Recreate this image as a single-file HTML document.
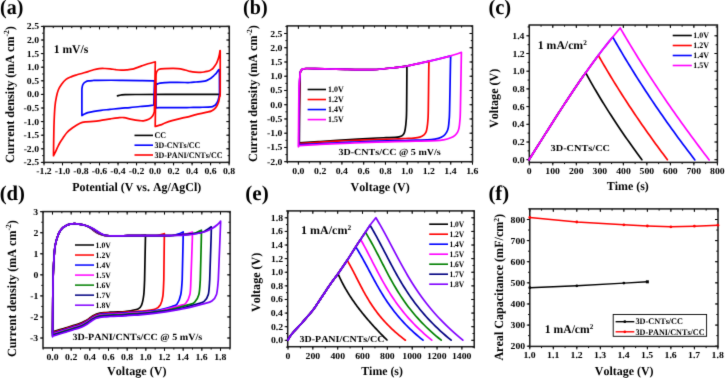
<!DOCTYPE html>
<html><head><meta charset="utf-8"><title>Figure</title><style>
html,body{margin:0;padding:0;background:#fff;width:725px;height:378px;overflow:hidden;}
svg{display:block;font-family:"Liberation Serif",serif;font-weight:bold;font-kerning:none;text-rendering:geometricPrecision;will-change:transform;}
</style></head><body>
<svg width="725" height="378" viewBox="0 0 725 378">
<defs><filter id="soft" x="0" y="0" width="1" height="1" color-interpolation-filters="sRGB"><feConvolveMatrix order="3" kernelMatrix="0.012 0.08 0.012 0.08 0.632 0.08 0.012 0.08 0.012" edgeMode="duplicate"/></filter></defs>
<rect width="725" height="378" fill="#fff"/>
<g filter="url(#soft)">
<text transform="translate(0.02 14.20) scale(0.9496 1.0000)" font-size="21.00" fill="#000"><tspan>(a)</tspan></text>
<text transform="translate(243.02 14.20) scale(0.9572 1.0000)" font-size="21.00" fill="#000"><tspan>(b)</tspan></text>
<text transform="translate(488.40 14.20) scale(0.9785 1.0000)" font-size="21.00" fill="#000"><tspan>(c)</tspan></text>
<text transform="translate(-0.31 199.70) scale(0.9866 1.0000)" font-size="21.00" fill="#000"><tspan>(d)</tspan></text>
<text transform="translate(245.27 200.00) scale(1.0065 1.0000)" font-size="21.00" fill="#000"><tspan>(e)</tspan></text>
<text transform="translate(488.39 199.80) scale(0.9878 1.0000)" font-size="21.00" fill="#000"><tspan>(f)</tspan></text>
<line x1="44.00" y1="162.40" x2="44.00" y2="164.10" stroke="#000" stroke-width="1.00" stroke-linecap="butt"/>
<line x1="44.00" y1="26.40" x2="44.00" y2="28.10" stroke="#000" stroke-width="1.00" stroke-linecap="butt"/>
<line x1="53.26" y1="162.40" x2="53.26" y2="164.10" stroke="#000" stroke-width="1.00" stroke-linecap="butt"/>
<line x1="53.26" y1="26.40" x2="53.26" y2="28.10" stroke="#000" stroke-width="1.00" stroke-linecap="butt"/>
<line x1="62.51" y1="162.40" x2="62.51" y2="164.10" stroke="#000" stroke-width="1.00" stroke-linecap="butt"/>
<line x1="62.51" y1="26.40" x2="62.51" y2="28.10" stroke="#000" stroke-width="1.00" stroke-linecap="butt"/>
<line x1="71.77" y1="162.40" x2="71.77" y2="164.10" stroke="#000" stroke-width="1.00" stroke-linecap="butt"/>
<line x1="71.77" y1="26.40" x2="71.77" y2="28.10" stroke="#000" stroke-width="1.00" stroke-linecap="butt"/>
<line x1="81.02" y1="162.40" x2="81.02" y2="164.10" stroke="#000" stroke-width="1.00" stroke-linecap="butt"/>
<line x1="81.02" y1="26.40" x2="81.02" y2="28.10" stroke="#000" stroke-width="1.00" stroke-linecap="butt"/>
<line x1="90.28" y1="162.40" x2="90.28" y2="164.10" stroke="#000" stroke-width="1.00" stroke-linecap="butt"/>
<line x1="90.28" y1="26.40" x2="90.28" y2="28.10" stroke="#000" stroke-width="1.00" stroke-linecap="butt"/>
<line x1="99.53" y1="162.40" x2="99.53" y2="164.10" stroke="#000" stroke-width="1.00" stroke-linecap="butt"/>
<line x1="99.53" y1="26.40" x2="99.53" y2="28.10" stroke="#000" stroke-width="1.00" stroke-linecap="butt"/>
<line x1="108.79" y1="162.40" x2="108.79" y2="164.10" stroke="#000" stroke-width="1.00" stroke-linecap="butt"/>
<line x1="108.79" y1="26.40" x2="108.79" y2="28.10" stroke="#000" stroke-width="1.00" stroke-linecap="butt"/>
<line x1="118.04" y1="162.40" x2="118.04" y2="164.10" stroke="#000" stroke-width="1.00" stroke-linecap="butt"/>
<line x1="118.04" y1="26.40" x2="118.04" y2="28.10" stroke="#000" stroke-width="1.00" stroke-linecap="butt"/>
<line x1="127.30" y1="162.40" x2="127.30" y2="164.10" stroke="#000" stroke-width="1.00" stroke-linecap="butt"/>
<line x1="127.30" y1="26.40" x2="127.30" y2="28.10" stroke="#000" stroke-width="1.00" stroke-linecap="butt"/>
<line x1="136.55" y1="162.40" x2="136.55" y2="164.10" stroke="#000" stroke-width="1.00" stroke-linecap="butt"/>
<line x1="136.55" y1="26.40" x2="136.55" y2="28.10" stroke="#000" stroke-width="1.00" stroke-linecap="butt"/>
<line x1="145.81" y1="162.40" x2="145.81" y2="164.10" stroke="#000" stroke-width="1.00" stroke-linecap="butt"/>
<line x1="145.81" y1="26.40" x2="145.81" y2="28.10" stroke="#000" stroke-width="1.00" stroke-linecap="butt"/>
<line x1="155.06" y1="162.40" x2="155.06" y2="164.10" stroke="#000" stroke-width="1.00" stroke-linecap="butt"/>
<line x1="155.06" y1="26.40" x2="155.06" y2="28.10" stroke="#000" stroke-width="1.00" stroke-linecap="butt"/>
<line x1="164.31" y1="162.40" x2="164.31" y2="164.10" stroke="#000" stroke-width="1.00" stroke-linecap="butt"/>
<line x1="164.31" y1="26.40" x2="164.31" y2="28.10" stroke="#000" stroke-width="1.00" stroke-linecap="butt"/>
<line x1="173.57" y1="162.40" x2="173.57" y2="164.10" stroke="#000" stroke-width="1.00" stroke-linecap="butt"/>
<line x1="173.57" y1="26.40" x2="173.57" y2="28.10" stroke="#000" stroke-width="1.00" stroke-linecap="butt"/>
<line x1="182.82" y1="162.40" x2="182.82" y2="164.10" stroke="#000" stroke-width="1.00" stroke-linecap="butt"/>
<line x1="182.82" y1="26.40" x2="182.82" y2="28.10" stroke="#000" stroke-width="1.00" stroke-linecap="butt"/>
<line x1="192.08" y1="162.40" x2="192.08" y2="164.10" stroke="#000" stroke-width="1.00" stroke-linecap="butt"/>
<line x1="192.08" y1="26.40" x2="192.08" y2="28.10" stroke="#000" stroke-width="1.00" stroke-linecap="butt"/>
<line x1="201.34" y1="162.40" x2="201.34" y2="164.10" stroke="#000" stroke-width="1.00" stroke-linecap="butt"/>
<line x1="201.34" y1="26.40" x2="201.34" y2="28.10" stroke="#000" stroke-width="1.00" stroke-linecap="butt"/>
<line x1="210.59" y1="162.40" x2="210.59" y2="164.10" stroke="#000" stroke-width="1.00" stroke-linecap="butt"/>
<line x1="210.59" y1="26.40" x2="210.59" y2="28.10" stroke="#000" stroke-width="1.00" stroke-linecap="butt"/>
<line x1="219.84" y1="162.40" x2="219.84" y2="164.10" stroke="#000" stroke-width="1.00" stroke-linecap="butt"/>
<line x1="219.84" y1="26.40" x2="219.84" y2="28.10" stroke="#000" stroke-width="1.00" stroke-linecap="butt"/>
<line x1="229.10" y1="162.40" x2="229.10" y2="164.10" stroke="#000" stroke-width="1.00" stroke-linecap="butt"/>
<line x1="229.10" y1="26.40" x2="229.10" y2="28.10" stroke="#000" stroke-width="1.00" stroke-linecap="butt"/>
<line x1="44.00" y1="162.40" x2="44.00" y2="165.40" stroke="#000" stroke-width="1.00" stroke-linecap="butt"/>
<line x1="44.00" y1="26.40" x2="44.00" y2="29.40" stroke="#000" stroke-width="1.00" stroke-linecap="butt"/>
<line x1="62.51" y1="162.40" x2="62.51" y2="165.40" stroke="#000" stroke-width="1.00" stroke-linecap="butt"/>
<line x1="62.51" y1="26.40" x2="62.51" y2="29.40" stroke="#000" stroke-width="1.00" stroke-linecap="butt"/>
<line x1="81.02" y1="162.40" x2="81.02" y2="165.40" stroke="#000" stroke-width="1.00" stroke-linecap="butt"/>
<line x1="81.02" y1="26.40" x2="81.02" y2="29.40" stroke="#000" stroke-width="1.00" stroke-linecap="butt"/>
<line x1="99.53" y1="162.40" x2="99.53" y2="165.40" stroke="#000" stroke-width="1.00" stroke-linecap="butt"/>
<line x1="99.53" y1="26.40" x2="99.53" y2="29.40" stroke="#000" stroke-width="1.00" stroke-linecap="butt"/>
<line x1="118.04" y1="162.40" x2="118.04" y2="165.40" stroke="#000" stroke-width="1.00" stroke-linecap="butt"/>
<line x1="118.04" y1="26.40" x2="118.04" y2="29.40" stroke="#000" stroke-width="1.00" stroke-linecap="butt"/>
<line x1="136.55" y1="162.40" x2="136.55" y2="165.40" stroke="#000" stroke-width="1.00" stroke-linecap="butt"/>
<line x1="136.55" y1="26.40" x2="136.55" y2="29.40" stroke="#000" stroke-width="1.00" stroke-linecap="butt"/>
<line x1="155.06" y1="162.40" x2="155.06" y2="165.40" stroke="#000" stroke-width="1.00" stroke-linecap="butt"/>
<line x1="155.06" y1="26.40" x2="155.06" y2="29.40" stroke="#000" stroke-width="1.00" stroke-linecap="butt"/>
<line x1="173.57" y1="162.40" x2="173.57" y2="165.40" stroke="#000" stroke-width="1.00" stroke-linecap="butt"/>
<line x1="173.57" y1="26.40" x2="173.57" y2="29.40" stroke="#000" stroke-width="1.00" stroke-linecap="butt"/>
<line x1="192.08" y1="162.40" x2="192.08" y2="165.40" stroke="#000" stroke-width="1.00" stroke-linecap="butt"/>
<line x1="192.08" y1="26.40" x2="192.08" y2="29.40" stroke="#000" stroke-width="1.00" stroke-linecap="butt"/>
<line x1="210.59" y1="162.40" x2="210.59" y2="165.40" stroke="#000" stroke-width="1.00" stroke-linecap="butt"/>
<line x1="210.59" y1="26.40" x2="210.59" y2="29.40" stroke="#000" stroke-width="1.00" stroke-linecap="butt"/>
<line x1="229.10" y1="162.40" x2="229.10" y2="165.40" stroke="#000" stroke-width="1.00" stroke-linecap="butt"/>
<line x1="229.10" y1="26.40" x2="229.10" y2="29.40" stroke="#000" stroke-width="1.00" stroke-linecap="butt"/>
<line x1="42.20" y1="162.40" x2="43.90" y2="162.40" stroke="#000" stroke-width="1.00" stroke-linecap="butt"/>
<line x1="227.60" y1="162.40" x2="229.30" y2="162.40" stroke="#000" stroke-width="1.00" stroke-linecap="butt"/>
<line x1="42.20" y1="155.60" x2="43.90" y2="155.60" stroke="#000" stroke-width="1.00" stroke-linecap="butt"/>
<line x1="227.60" y1="155.60" x2="229.30" y2="155.60" stroke="#000" stroke-width="1.00" stroke-linecap="butt"/>
<line x1="42.20" y1="148.80" x2="43.90" y2="148.80" stroke="#000" stroke-width="1.00" stroke-linecap="butt"/>
<line x1="227.60" y1="148.80" x2="229.30" y2="148.80" stroke="#000" stroke-width="1.00" stroke-linecap="butt"/>
<line x1="42.20" y1="142.00" x2="43.90" y2="142.00" stroke="#000" stroke-width="1.00" stroke-linecap="butt"/>
<line x1="227.60" y1="142.00" x2="229.30" y2="142.00" stroke="#000" stroke-width="1.00" stroke-linecap="butt"/>
<line x1="42.20" y1="135.20" x2="43.90" y2="135.20" stroke="#000" stroke-width="1.00" stroke-linecap="butt"/>
<line x1="227.60" y1="135.20" x2="229.30" y2="135.20" stroke="#000" stroke-width="1.00" stroke-linecap="butt"/>
<line x1="42.20" y1="128.40" x2="43.90" y2="128.40" stroke="#000" stroke-width="1.00" stroke-linecap="butt"/>
<line x1="227.60" y1="128.40" x2="229.30" y2="128.40" stroke="#000" stroke-width="1.00" stroke-linecap="butt"/>
<line x1="42.20" y1="121.60" x2="43.90" y2="121.60" stroke="#000" stroke-width="1.00" stroke-linecap="butt"/>
<line x1="227.60" y1="121.60" x2="229.30" y2="121.60" stroke="#000" stroke-width="1.00" stroke-linecap="butt"/>
<line x1="42.20" y1="114.80" x2="43.90" y2="114.80" stroke="#000" stroke-width="1.00" stroke-linecap="butt"/>
<line x1="227.60" y1="114.80" x2="229.30" y2="114.80" stroke="#000" stroke-width="1.00" stroke-linecap="butt"/>
<line x1="42.20" y1="108.00" x2="43.90" y2="108.00" stroke="#000" stroke-width="1.00" stroke-linecap="butt"/>
<line x1="227.60" y1="108.00" x2="229.30" y2="108.00" stroke="#000" stroke-width="1.00" stroke-linecap="butt"/>
<line x1="42.20" y1="101.20" x2="43.90" y2="101.20" stroke="#000" stroke-width="1.00" stroke-linecap="butt"/>
<line x1="227.60" y1="101.20" x2="229.30" y2="101.20" stroke="#000" stroke-width="1.00" stroke-linecap="butt"/>
<line x1="42.20" y1="94.40" x2="43.90" y2="94.40" stroke="#000" stroke-width="1.00" stroke-linecap="butt"/>
<line x1="227.60" y1="94.40" x2="229.30" y2="94.40" stroke="#000" stroke-width="1.00" stroke-linecap="butt"/>
<line x1="42.20" y1="87.60" x2="43.90" y2="87.60" stroke="#000" stroke-width="1.00" stroke-linecap="butt"/>
<line x1="227.60" y1="87.60" x2="229.30" y2="87.60" stroke="#000" stroke-width="1.00" stroke-linecap="butt"/>
<line x1="42.20" y1="80.80" x2="43.90" y2="80.80" stroke="#000" stroke-width="1.00" stroke-linecap="butt"/>
<line x1="227.60" y1="80.80" x2="229.30" y2="80.80" stroke="#000" stroke-width="1.00" stroke-linecap="butt"/>
<line x1="42.20" y1="74.00" x2="43.90" y2="74.00" stroke="#000" stroke-width="1.00" stroke-linecap="butt"/>
<line x1="227.60" y1="74.00" x2="229.30" y2="74.00" stroke="#000" stroke-width="1.00" stroke-linecap="butt"/>
<line x1="42.20" y1="67.20" x2="43.90" y2="67.20" stroke="#000" stroke-width="1.00" stroke-linecap="butt"/>
<line x1="227.60" y1="67.20" x2="229.30" y2="67.20" stroke="#000" stroke-width="1.00" stroke-linecap="butt"/>
<line x1="42.20" y1="60.40" x2="43.90" y2="60.40" stroke="#000" stroke-width="1.00" stroke-linecap="butt"/>
<line x1="227.60" y1="60.40" x2="229.30" y2="60.40" stroke="#000" stroke-width="1.00" stroke-linecap="butt"/>
<line x1="42.20" y1="53.60" x2="43.90" y2="53.60" stroke="#000" stroke-width="1.00" stroke-linecap="butt"/>
<line x1="227.60" y1="53.60" x2="229.30" y2="53.60" stroke="#000" stroke-width="1.00" stroke-linecap="butt"/>
<line x1="42.20" y1="46.80" x2="43.90" y2="46.80" stroke="#000" stroke-width="1.00" stroke-linecap="butt"/>
<line x1="227.60" y1="46.80" x2="229.30" y2="46.80" stroke="#000" stroke-width="1.00" stroke-linecap="butt"/>
<line x1="42.20" y1="40.00" x2="43.90" y2="40.00" stroke="#000" stroke-width="1.00" stroke-linecap="butt"/>
<line x1="227.60" y1="40.00" x2="229.30" y2="40.00" stroke="#000" stroke-width="1.00" stroke-linecap="butt"/>
<line x1="42.20" y1="33.20" x2="43.90" y2="33.20" stroke="#000" stroke-width="1.00" stroke-linecap="butt"/>
<line x1="227.60" y1="33.20" x2="229.30" y2="33.20" stroke="#000" stroke-width="1.00" stroke-linecap="butt"/>
<line x1="42.20" y1="26.40" x2="43.90" y2="26.40" stroke="#000" stroke-width="1.00" stroke-linecap="butt"/>
<line x1="227.60" y1="26.40" x2="229.30" y2="26.40" stroke="#000" stroke-width="1.00" stroke-linecap="butt"/>
<line x1="40.90" y1="162.40" x2="43.90" y2="162.40" stroke="#000" stroke-width="1.00" stroke-linecap="butt"/>
<line x1="226.30" y1="162.40" x2="229.30" y2="162.40" stroke="#000" stroke-width="1.00" stroke-linecap="butt"/>
<line x1="40.90" y1="148.80" x2="43.90" y2="148.80" stroke="#000" stroke-width="1.00" stroke-linecap="butt"/>
<line x1="226.30" y1="148.80" x2="229.30" y2="148.80" stroke="#000" stroke-width="1.00" stroke-linecap="butt"/>
<line x1="40.90" y1="135.20" x2="43.90" y2="135.20" stroke="#000" stroke-width="1.00" stroke-linecap="butt"/>
<line x1="226.30" y1="135.20" x2="229.30" y2="135.20" stroke="#000" stroke-width="1.00" stroke-linecap="butt"/>
<line x1="40.90" y1="121.60" x2="43.90" y2="121.60" stroke="#000" stroke-width="1.00" stroke-linecap="butt"/>
<line x1="226.30" y1="121.60" x2="229.30" y2="121.60" stroke="#000" stroke-width="1.00" stroke-linecap="butt"/>
<line x1="40.90" y1="108.00" x2="43.90" y2="108.00" stroke="#000" stroke-width="1.00" stroke-linecap="butt"/>
<line x1="226.30" y1="108.00" x2="229.30" y2="108.00" stroke="#000" stroke-width="1.00" stroke-linecap="butt"/>
<line x1="40.90" y1="94.40" x2="43.90" y2="94.40" stroke="#000" stroke-width="1.00" stroke-linecap="butt"/>
<line x1="226.30" y1="94.40" x2="229.30" y2="94.40" stroke="#000" stroke-width="1.00" stroke-linecap="butt"/>
<line x1="40.90" y1="80.80" x2="43.90" y2="80.80" stroke="#000" stroke-width="1.00" stroke-linecap="butt"/>
<line x1="226.30" y1="80.80" x2="229.30" y2="80.80" stroke="#000" stroke-width="1.00" stroke-linecap="butt"/>
<line x1="40.90" y1="67.20" x2="43.90" y2="67.20" stroke="#000" stroke-width="1.00" stroke-linecap="butt"/>
<line x1="226.30" y1="67.20" x2="229.30" y2="67.20" stroke="#000" stroke-width="1.00" stroke-linecap="butt"/>
<line x1="40.90" y1="53.60" x2="43.90" y2="53.60" stroke="#000" stroke-width="1.00" stroke-linecap="butt"/>
<line x1="226.30" y1="53.60" x2="229.30" y2="53.60" stroke="#000" stroke-width="1.00" stroke-linecap="butt"/>
<line x1="40.90" y1="40.00" x2="43.90" y2="40.00" stroke="#000" stroke-width="1.00" stroke-linecap="butt"/>
<line x1="226.30" y1="40.00" x2="229.30" y2="40.00" stroke="#000" stroke-width="1.00" stroke-linecap="butt"/>
<line x1="40.90" y1="26.40" x2="43.90" y2="26.40" stroke="#000" stroke-width="1.00" stroke-linecap="butt"/>
<line x1="226.30" y1="26.40" x2="229.30" y2="26.40" stroke="#000" stroke-width="1.00" stroke-linecap="butt"/>
<rect x="43.90" y="26.40" width="185.40" height="136.00" fill="none" stroke="#1a1a1a" stroke-width="1.50"/>
<text transform="translate(36.31 174.40) scale(1.0600 1.0000)" font-size="9.20" fill="#000"><tspan>-1.2</tspan></text>
<text transform="translate(54.80 174.40) scale(1.0600 1.0000)" font-size="9.20" fill="#000"><tspan>-1.0</tspan></text>
<text transform="translate(73.28 174.40) scale(1.0600 1.0000)" font-size="9.20" fill="#000"><tspan>-0.8</tspan></text>
<text transform="translate(91.78 174.40) scale(1.0600 1.0000)" font-size="9.20" fill="#000"><tspan>-0.6</tspan></text>
<text transform="translate(110.23 174.40) scale(1.0600 1.0000)" font-size="9.20" fill="#000"><tspan>-0.4</tspan></text>
<text transform="translate(128.86 174.40) scale(1.0600 1.0000)" font-size="9.20" fill="#000"><tspan>-0.2</tspan></text>
<text transform="translate(148.97 174.40) scale(1.0600 1.0000)" font-size="9.20" fill="#000"><tspan>0.0</tspan></text>
<text transform="translate(167.50 174.40) scale(1.0600 1.0000)" font-size="9.20" fill="#000"><tspan>0.2</tspan></text>
<text transform="translate(185.89 174.40) scale(1.0600 1.0000)" font-size="9.20" fill="#000"><tspan>0.4</tspan></text>
<text transform="translate(204.45 174.40) scale(1.0600 1.0000)" font-size="9.20" fill="#000"><tspan>0.6</tspan></text>
<text transform="translate(222.98 174.40) scale(1.0600 1.0000)" font-size="9.20" fill="#000"><tspan>0.8</tspan></text>
<text transform="translate(23.62 165.40) scale(1.0600 1.0000)" font-size="9.20" fill="#000"><tspan>-2.5</tspan></text>
<text transform="translate(23.63 151.80) scale(1.0600 1.0000)" font-size="9.20" fill="#000"><tspan>-2.0</tspan></text>
<text transform="translate(23.62 138.20) scale(1.0600 1.0000)" font-size="9.20" fill="#000"><tspan>-1.5</tspan></text>
<text transform="translate(23.63 124.60) scale(1.0600 1.0000)" font-size="9.20" fill="#000"><tspan>-1.0</tspan></text>
<text transform="translate(23.62 111.00) scale(1.0600 1.0000)" font-size="9.20" fill="#000"><tspan>-0.5</tspan></text>
<text transform="translate(26.88 97.40) scale(1.0600 1.0000)" font-size="9.20" fill="#000"><tspan>0.0</tspan></text>
<text transform="translate(26.87 83.80) scale(1.0600 1.0000)" font-size="9.20" fill="#000"><tspan>0.5</tspan></text>
<text transform="translate(26.88 70.20) scale(1.0600 1.0000)" font-size="9.20" fill="#000"><tspan>1.0</tspan></text>
<text transform="translate(26.87 56.60) scale(1.0600 1.0000)" font-size="9.20" fill="#000"><tspan>1.5</tspan></text>
<text transform="translate(26.88 43.00) scale(1.0600 1.0000)" font-size="9.20" fill="#000"><tspan>2.0</tspan></text>
<text transform="translate(26.87 29.40) scale(1.0600 1.0000)" font-size="9.20" fill="#000"><tspan>2.5</tspan></text>
<line x1="287.52" y1="161.70" x2="287.52" y2="163.40" stroke="#000" stroke-width="1.00" stroke-linecap="butt"/>
<line x1="287.52" y1="25.90" x2="287.52" y2="27.60" stroke="#000" stroke-width="1.00" stroke-linecap="butt"/>
<line x1="298.40" y1="161.70" x2="298.40" y2="163.40" stroke="#000" stroke-width="1.00" stroke-linecap="butt"/>
<line x1="298.40" y1="25.90" x2="298.40" y2="27.60" stroke="#000" stroke-width="1.00" stroke-linecap="butt"/>
<line x1="309.28" y1="161.70" x2="309.28" y2="163.40" stroke="#000" stroke-width="1.00" stroke-linecap="butt"/>
<line x1="309.28" y1="25.90" x2="309.28" y2="27.60" stroke="#000" stroke-width="1.00" stroke-linecap="butt"/>
<line x1="320.16" y1="161.70" x2="320.16" y2="163.40" stroke="#000" stroke-width="1.00" stroke-linecap="butt"/>
<line x1="320.16" y1="25.90" x2="320.16" y2="27.60" stroke="#000" stroke-width="1.00" stroke-linecap="butt"/>
<line x1="331.04" y1="161.70" x2="331.04" y2="163.40" stroke="#000" stroke-width="1.00" stroke-linecap="butt"/>
<line x1="331.04" y1="25.90" x2="331.04" y2="27.60" stroke="#000" stroke-width="1.00" stroke-linecap="butt"/>
<line x1="341.92" y1="161.70" x2="341.92" y2="163.40" stroke="#000" stroke-width="1.00" stroke-linecap="butt"/>
<line x1="341.92" y1="25.90" x2="341.92" y2="27.60" stroke="#000" stroke-width="1.00" stroke-linecap="butt"/>
<line x1="352.81" y1="161.70" x2="352.81" y2="163.40" stroke="#000" stroke-width="1.00" stroke-linecap="butt"/>
<line x1="352.81" y1="25.90" x2="352.81" y2="27.60" stroke="#000" stroke-width="1.00" stroke-linecap="butt"/>
<line x1="363.69" y1="161.70" x2="363.69" y2="163.40" stroke="#000" stroke-width="1.00" stroke-linecap="butt"/>
<line x1="363.69" y1="25.90" x2="363.69" y2="27.60" stroke="#000" stroke-width="1.00" stroke-linecap="butt"/>
<line x1="374.57" y1="161.70" x2="374.57" y2="163.40" stroke="#000" stroke-width="1.00" stroke-linecap="butt"/>
<line x1="374.57" y1="25.90" x2="374.57" y2="27.60" stroke="#000" stroke-width="1.00" stroke-linecap="butt"/>
<line x1="385.45" y1="161.70" x2="385.45" y2="163.40" stroke="#000" stroke-width="1.00" stroke-linecap="butt"/>
<line x1="385.45" y1="25.90" x2="385.45" y2="27.60" stroke="#000" stroke-width="1.00" stroke-linecap="butt"/>
<line x1="396.33" y1="161.70" x2="396.33" y2="163.40" stroke="#000" stroke-width="1.00" stroke-linecap="butt"/>
<line x1="396.33" y1="25.90" x2="396.33" y2="27.60" stroke="#000" stroke-width="1.00" stroke-linecap="butt"/>
<line x1="407.21" y1="161.70" x2="407.21" y2="163.40" stroke="#000" stroke-width="1.00" stroke-linecap="butt"/>
<line x1="407.21" y1="25.90" x2="407.21" y2="27.60" stroke="#000" stroke-width="1.00" stroke-linecap="butt"/>
<line x1="418.09" y1="161.70" x2="418.09" y2="163.40" stroke="#000" stroke-width="1.00" stroke-linecap="butt"/>
<line x1="418.09" y1="25.90" x2="418.09" y2="27.60" stroke="#000" stroke-width="1.00" stroke-linecap="butt"/>
<line x1="428.98" y1="161.70" x2="428.98" y2="163.40" stroke="#000" stroke-width="1.00" stroke-linecap="butt"/>
<line x1="428.98" y1="25.90" x2="428.98" y2="27.60" stroke="#000" stroke-width="1.00" stroke-linecap="butt"/>
<line x1="439.86" y1="161.70" x2="439.86" y2="163.40" stroke="#000" stroke-width="1.00" stroke-linecap="butt"/>
<line x1="439.86" y1="25.90" x2="439.86" y2="27.60" stroke="#000" stroke-width="1.00" stroke-linecap="butt"/>
<line x1="450.74" y1="161.70" x2="450.74" y2="163.40" stroke="#000" stroke-width="1.00" stroke-linecap="butt"/>
<line x1="450.74" y1="25.90" x2="450.74" y2="27.60" stroke="#000" stroke-width="1.00" stroke-linecap="butt"/>
<line x1="461.62" y1="161.70" x2="461.62" y2="163.40" stroke="#000" stroke-width="1.00" stroke-linecap="butt"/>
<line x1="461.62" y1="25.90" x2="461.62" y2="27.60" stroke="#000" stroke-width="1.00" stroke-linecap="butt"/>
<line x1="472.50" y1="161.70" x2="472.50" y2="163.40" stroke="#000" stroke-width="1.00" stroke-linecap="butt"/>
<line x1="472.50" y1="25.90" x2="472.50" y2="27.60" stroke="#000" stroke-width="1.00" stroke-linecap="butt"/>
<line x1="298.40" y1="161.70" x2="298.40" y2="164.70" stroke="#000" stroke-width="1.00" stroke-linecap="butt"/>
<line x1="298.40" y1="25.90" x2="298.40" y2="28.90" stroke="#000" stroke-width="1.00" stroke-linecap="butt"/>
<line x1="320.16" y1="161.70" x2="320.16" y2="164.70" stroke="#000" stroke-width="1.00" stroke-linecap="butt"/>
<line x1="320.16" y1="25.90" x2="320.16" y2="28.90" stroke="#000" stroke-width="1.00" stroke-linecap="butt"/>
<line x1="341.92" y1="161.70" x2="341.92" y2="164.70" stroke="#000" stroke-width="1.00" stroke-linecap="butt"/>
<line x1="341.92" y1="25.90" x2="341.92" y2="28.90" stroke="#000" stroke-width="1.00" stroke-linecap="butt"/>
<line x1="363.69" y1="161.70" x2="363.69" y2="164.70" stroke="#000" stroke-width="1.00" stroke-linecap="butt"/>
<line x1="363.69" y1="25.90" x2="363.69" y2="28.90" stroke="#000" stroke-width="1.00" stroke-linecap="butt"/>
<line x1="385.45" y1="161.70" x2="385.45" y2="164.70" stroke="#000" stroke-width="1.00" stroke-linecap="butt"/>
<line x1="385.45" y1="25.90" x2="385.45" y2="28.90" stroke="#000" stroke-width="1.00" stroke-linecap="butt"/>
<line x1="407.21" y1="161.70" x2="407.21" y2="164.70" stroke="#000" stroke-width="1.00" stroke-linecap="butt"/>
<line x1="407.21" y1="25.90" x2="407.21" y2="28.90" stroke="#000" stroke-width="1.00" stroke-linecap="butt"/>
<line x1="428.98" y1="161.70" x2="428.98" y2="164.70" stroke="#000" stroke-width="1.00" stroke-linecap="butt"/>
<line x1="428.98" y1="25.90" x2="428.98" y2="28.90" stroke="#000" stroke-width="1.00" stroke-linecap="butt"/>
<line x1="450.74" y1="161.70" x2="450.74" y2="164.70" stroke="#000" stroke-width="1.00" stroke-linecap="butt"/>
<line x1="450.74" y1="25.90" x2="450.74" y2="28.90" stroke="#000" stroke-width="1.00" stroke-linecap="butt"/>
<line x1="472.50" y1="161.70" x2="472.50" y2="164.70" stroke="#000" stroke-width="1.00" stroke-linecap="butt"/>
<line x1="472.50" y1="25.90" x2="472.50" y2="28.90" stroke="#000" stroke-width="1.00" stroke-linecap="butt"/>
<line x1="285.40" y1="161.70" x2="287.10" y2="161.70" stroke="#000" stroke-width="1.00" stroke-linecap="butt"/>
<line x1="470.80" y1="161.70" x2="472.50" y2="161.70" stroke="#000" stroke-width="1.00" stroke-linecap="butt"/>
<line x1="285.40" y1="154.58" x2="287.10" y2="154.58" stroke="#000" stroke-width="1.00" stroke-linecap="butt"/>
<line x1="470.80" y1="154.58" x2="472.50" y2="154.58" stroke="#000" stroke-width="1.00" stroke-linecap="butt"/>
<line x1="285.40" y1="147.46" x2="287.10" y2="147.46" stroke="#000" stroke-width="1.00" stroke-linecap="butt"/>
<line x1="470.80" y1="147.46" x2="472.50" y2="147.46" stroke="#000" stroke-width="1.00" stroke-linecap="butt"/>
<line x1="285.40" y1="140.33" x2="287.10" y2="140.33" stroke="#000" stroke-width="1.00" stroke-linecap="butt"/>
<line x1="470.80" y1="140.33" x2="472.50" y2="140.33" stroke="#000" stroke-width="1.00" stroke-linecap="butt"/>
<line x1="285.40" y1="133.21" x2="287.10" y2="133.21" stroke="#000" stroke-width="1.00" stroke-linecap="butt"/>
<line x1="470.80" y1="133.21" x2="472.50" y2="133.21" stroke="#000" stroke-width="1.00" stroke-linecap="butt"/>
<line x1="285.40" y1="126.09" x2="287.10" y2="126.09" stroke="#000" stroke-width="1.00" stroke-linecap="butt"/>
<line x1="470.80" y1="126.09" x2="472.50" y2="126.09" stroke="#000" stroke-width="1.00" stroke-linecap="butt"/>
<line x1="285.40" y1="118.97" x2="287.10" y2="118.97" stroke="#000" stroke-width="1.00" stroke-linecap="butt"/>
<line x1="470.80" y1="118.97" x2="472.50" y2="118.97" stroke="#000" stroke-width="1.00" stroke-linecap="butt"/>
<line x1="285.40" y1="111.84" x2="287.10" y2="111.84" stroke="#000" stroke-width="1.00" stroke-linecap="butt"/>
<line x1="470.80" y1="111.84" x2="472.50" y2="111.84" stroke="#000" stroke-width="1.00" stroke-linecap="butt"/>
<line x1="285.40" y1="104.72" x2="287.10" y2="104.72" stroke="#000" stroke-width="1.00" stroke-linecap="butt"/>
<line x1="470.80" y1="104.72" x2="472.50" y2="104.72" stroke="#000" stroke-width="1.00" stroke-linecap="butt"/>
<line x1="285.40" y1="97.60" x2="287.10" y2="97.60" stroke="#000" stroke-width="1.00" stroke-linecap="butt"/>
<line x1="470.80" y1="97.60" x2="472.50" y2="97.60" stroke="#000" stroke-width="1.00" stroke-linecap="butt"/>
<line x1="285.40" y1="90.48" x2="287.10" y2="90.48" stroke="#000" stroke-width="1.00" stroke-linecap="butt"/>
<line x1="470.80" y1="90.48" x2="472.50" y2="90.48" stroke="#000" stroke-width="1.00" stroke-linecap="butt"/>
<line x1="285.40" y1="83.36" x2="287.10" y2="83.36" stroke="#000" stroke-width="1.00" stroke-linecap="butt"/>
<line x1="470.80" y1="83.36" x2="472.50" y2="83.36" stroke="#000" stroke-width="1.00" stroke-linecap="butt"/>
<line x1="285.40" y1="76.23" x2="287.10" y2="76.23" stroke="#000" stroke-width="1.00" stroke-linecap="butt"/>
<line x1="470.80" y1="76.23" x2="472.50" y2="76.23" stroke="#000" stroke-width="1.00" stroke-linecap="butt"/>
<line x1="285.40" y1="69.11" x2="287.10" y2="69.11" stroke="#000" stroke-width="1.00" stroke-linecap="butt"/>
<line x1="470.80" y1="69.11" x2="472.50" y2="69.11" stroke="#000" stroke-width="1.00" stroke-linecap="butt"/>
<line x1="285.40" y1="61.99" x2="287.10" y2="61.99" stroke="#000" stroke-width="1.00" stroke-linecap="butt"/>
<line x1="470.80" y1="61.99" x2="472.50" y2="61.99" stroke="#000" stroke-width="1.00" stroke-linecap="butt"/>
<line x1="285.40" y1="54.87" x2="287.10" y2="54.87" stroke="#000" stroke-width="1.00" stroke-linecap="butt"/>
<line x1="470.80" y1="54.87" x2="472.50" y2="54.87" stroke="#000" stroke-width="1.00" stroke-linecap="butt"/>
<line x1="285.40" y1="47.74" x2="287.10" y2="47.74" stroke="#000" stroke-width="1.00" stroke-linecap="butt"/>
<line x1="470.80" y1="47.74" x2="472.50" y2="47.74" stroke="#000" stroke-width="1.00" stroke-linecap="butt"/>
<line x1="285.40" y1="40.62" x2="287.10" y2="40.62" stroke="#000" stroke-width="1.00" stroke-linecap="butt"/>
<line x1="470.80" y1="40.62" x2="472.50" y2="40.62" stroke="#000" stroke-width="1.00" stroke-linecap="butt"/>
<line x1="285.40" y1="33.50" x2="287.10" y2="33.50" stroke="#000" stroke-width="1.00" stroke-linecap="butt"/>
<line x1="470.80" y1="33.50" x2="472.50" y2="33.50" stroke="#000" stroke-width="1.00" stroke-linecap="butt"/>
<line x1="285.40" y1="26.38" x2="287.10" y2="26.38" stroke="#000" stroke-width="1.00" stroke-linecap="butt"/>
<line x1="470.80" y1="26.38" x2="472.50" y2="26.38" stroke="#000" stroke-width="1.00" stroke-linecap="butt"/>
<line x1="284.10" y1="161.70" x2="287.10" y2="161.70" stroke="#000" stroke-width="1.00" stroke-linecap="butt"/>
<line x1="469.50" y1="161.70" x2="472.50" y2="161.70" stroke="#000" stroke-width="1.00" stroke-linecap="butt"/>
<line x1="284.10" y1="147.46" x2="287.10" y2="147.46" stroke="#000" stroke-width="1.00" stroke-linecap="butt"/>
<line x1="469.50" y1="147.46" x2="472.50" y2="147.46" stroke="#000" stroke-width="1.00" stroke-linecap="butt"/>
<line x1="284.10" y1="133.21" x2="287.10" y2="133.21" stroke="#000" stroke-width="1.00" stroke-linecap="butt"/>
<line x1="469.50" y1="133.21" x2="472.50" y2="133.21" stroke="#000" stroke-width="1.00" stroke-linecap="butt"/>
<line x1="284.10" y1="118.97" x2="287.10" y2="118.97" stroke="#000" stroke-width="1.00" stroke-linecap="butt"/>
<line x1="469.50" y1="118.97" x2="472.50" y2="118.97" stroke="#000" stroke-width="1.00" stroke-linecap="butt"/>
<line x1="284.10" y1="104.72" x2="287.10" y2="104.72" stroke="#000" stroke-width="1.00" stroke-linecap="butt"/>
<line x1="469.50" y1="104.72" x2="472.50" y2="104.72" stroke="#000" stroke-width="1.00" stroke-linecap="butt"/>
<line x1="284.10" y1="90.48" x2="287.10" y2="90.48" stroke="#000" stroke-width="1.00" stroke-linecap="butt"/>
<line x1="469.50" y1="90.48" x2="472.50" y2="90.48" stroke="#000" stroke-width="1.00" stroke-linecap="butt"/>
<line x1="284.10" y1="76.23" x2="287.10" y2="76.23" stroke="#000" stroke-width="1.00" stroke-linecap="butt"/>
<line x1="469.50" y1="76.23" x2="472.50" y2="76.23" stroke="#000" stroke-width="1.00" stroke-linecap="butt"/>
<line x1="284.10" y1="61.99" x2="287.10" y2="61.99" stroke="#000" stroke-width="1.00" stroke-linecap="butt"/>
<line x1="469.50" y1="61.99" x2="472.50" y2="61.99" stroke="#000" stroke-width="1.00" stroke-linecap="butt"/>
<line x1="284.10" y1="47.74" x2="287.10" y2="47.74" stroke="#000" stroke-width="1.00" stroke-linecap="butt"/>
<line x1="469.50" y1="47.74" x2="472.50" y2="47.74" stroke="#000" stroke-width="1.00" stroke-linecap="butt"/>
<line x1="284.10" y1="33.50" x2="287.10" y2="33.50" stroke="#000" stroke-width="1.00" stroke-linecap="butt"/>
<line x1="469.50" y1="33.50" x2="472.50" y2="33.50" stroke="#000" stroke-width="1.00" stroke-linecap="butt"/>
<rect x="287.10" y="25.90" width="185.40" height="135.80" fill="none" stroke="#1a1a1a" stroke-width="1.50"/>
<text transform="translate(292.31 173.70) scale(1.0600 1.0000)" font-size="9.20" fill="#000"><tspan>0.0</tspan></text>
<text transform="translate(314.09 173.70) scale(1.0600 1.0000)" font-size="9.20" fill="#000"><tspan>0.2</tspan></text>
<text transform="translate(335.73 173.70) scale(1.0600 1.0000)" font-size="9.20" fill="#000"><tspan>0.4</tspan></text>
<text transform="translate(357.55 173.70) scale(1.0600 1.0000)" font-size="9.20" fill="#000"><tspan>0.6</tspan></text>
<text transform="translate(379.33 173.70) scale(1.0600 1.0000)" font-size="9.20" fill="#000"><tspan>0.8</tspan></text>
<text transform="translate(400.91 173.70) scale(1.0600 1.0000)" font-size="9.20" fill="#000"><tspan>1.0</tspan></text>
<text transform="translate(422.70 173.70) scale(1.0600 1.0000)" font-size="9.20" fill="#000"><tspan>1.2</tspan></text>
<text transform="translate(444.34 173.70) scale(1.0600 1.0000)" font-size="9.20" fill="#000"><tspan>1.4</tspan></text>
<text transform="translate(466.16 173.70) scale(1.0600 1.0000)" font-size="9.20" fill="#000"><tspan>1.6</tspan></text>
<text transform="translate(267.03 164.70) scale(1.0600 1.0000)" font-size="9.20" fill="#000"><tspan>-2.0</tspan></text>
<text transform="translate(267.02 150.46) scale(1.0600 1.0000)" font-size="9.20" fill="#000"><tspan>-1.5</tspan></text>
<text transform="translate(267.03 136.21) scale(1.0600 1.0000)" font-size="9.20" fill="#000"><tspan>-1.0</tspan></text>
<text transform="translate(267.02 121.97) scale(1.0600 1.0000)" font-size="9.20" fill="#000"><tspan>-0.5</tspan></text>
<text transform="translate(270.28 107.72) scale(1.0600 1.0000)" font-size="9.20" fill="#000"><tspan>0.0</tspan></text>
<text transform="translate(270.27 93.48) scale(1.0600 1.0000)" font-size="9.20" fill="#000"><tspan>0.5</tspan></text>
<text transform="translate(270.28 79.23) scale(1.0600 1.0000)" font-size="9.20" fill="#000"><tspan>1.0</tspan></text>
<text transform="translate(270.27 64.99) scale(1.0600 1.0000)" font-size="9.20" fill="#000"><tspan>1.5</tspan></text>
<text transform="translate(270.28 50.74) scale(1.0600 1.0000)" font-size="9.20" fill="#000"><tspan>2.0</tspan></text>
<text transform="translate(270.27 36.50) scale(1.0600 1.0000)" font-size="9.20" fill="#000"><tspan>2.5</tspan></text>
<line x1="529.30" y1="162.40" x2="529.30" y2="164.10" stroke="#000" stroke-width="1.00" stroke-linecap="butt"/>
<line x1="529.30" y1="25.00" x2="529.30" y2="26.70" stroke="#000" stroke-width="1.00" stroke-linecap="butt"/>
<line x1="541.06" y1="162.40" x2="541.06" y2="164.10" stroke="#000" stroke-width="1.00" stroke-linecap="butt"/>
<line x1="541.06" y1="25.00" x2="541.06" y2="26.70" stroke="#000" stroke-width="1.00" stroke-linecap="butt"/>
<line x1="552.81" y1="162.40" x2="552.81" y2="164.10" stroke="#000" stroke-width="1.00" stroke-linecap="butt"/>
<line x1="552.81" y1="25.00" x2="552.81" y2="26.70" stroke="#000" stroke-width="1.00" stroke-linecap="butt"/>
<line x1="564.57" y1="162.40" x2="564.57" y2="164.10" stroke="#000" stroke-width="1.00" stroke-linecap="butt"/>
<line x1="564.57" y1="25.00" x2="564.57" y2="26.70" stroke="#000" stroke-width="1.00" stroke-linecap="butt"/>
<line x1="576.32" y1="162.40" x2="576.32" y2="164.10" stroke="#000" stroke-width="1.00" stroke-linecap="butt"/>
<line x1="576.32" y1="25.00" x2="576.32" y2="26.70" stroke="#000" stroke-width="1.00" stroke-linecap="butt"/>
<line x1="588.08" y1="162.40" x2="588.08" y2="164.10" stroke="#000" stroke-width="1.00" stroke-linecap="butt"/>
<line x1="588.08" y1="25.00" x2="588.08" y2="26.70" stroke="#000" stroke-width="1.00" stroke-linecap="butt"/>
<line x1="599.84" y1="162.40" x2="599.84" y2="164.10" stroke="#000" stroke-width="1.00" stroke-linecap="butt"/>
<line x1="599.84" y1="25.00" x2="599.84" y2="26.70" stroke="#000" stroke-width="1.00" stroke-linecap="butt"/>
<line x1="611.59" y1="162.40" x2="611.59" y2="164.10" stroke="#000" stroke-width="1.00" stroke-linecap="butt"/>
<line x1="611.59" y1="25.00" x2="611.59" y2="26.70" stroke="#000" stroke-width="1.00" stroke-linecap="butt"/>
<line x1="623.35" y1="162.40" x2="623.35" y2="164.10" stroke="#000" stroke-width="1.00" stroke-linecap="butt"/>
<line x1="623.35" y1="25.00" x2="623.35" y2="26.70" stroke="#000" stroke-width="1.00" stroke-linecap="butt"/>
<line x1="635.11" y1="162.40" x2="635.11" y2="164.10" stroke="#000" stroke-width="1.00" stroke-linecap="butt"/>
<line x1="635.11" y1="25.00" x2="635.11" y2="26.70" stroke="#000" stroke-width="1.00" stroke-linecap="butt"/>
<line x1="646.86" y1="162.40" x2="646.86" y2="164.10" stroke="#000" stroke-width="1.00" stroke-linecap="butt"/>
<line x1="646.86" y1="25.00" x2="646.86" y2="26.70" stroke="#000" stroke-width="1.00" stroke-linecap="butt"/>
<line x1="658.62" y1="162.40" x2="658.62" y2="164.10" stroke="#000" stroke-width="1.00" stroke-linecap="butt"/>
<line x1="658.62" y1="25.00" x2="658.62" y2="26.70" stroke="#000" stroke-width="1.00" stroke-linecap="butt"/>
<line x1="670.38" y1="162.40" x2="670.38" y2="164.10" stroke="#000" stroke-width="1.00" stroke-linecap="butt"/>
<line x1="670.38" y1="25.00" x2="670.38" y2="26.70" stroke="#000" stroke-width="1.00" stroke-linecap="butt"/>
<line x1="682.13" y1="162.40" x2="682.13" y2="164.10" stroke="#000" stroke-width="1.00" stroke-linecap="butt"/>
<line x1="682.13" y1="25.00" x2="682.13" y2="26.70" stroke="#000" stroke-width="1.00" stroke-linecap="butt"/>
<line x1="693.89" y1="162.40" x2="693.89" y2="164.10" stroke="#000" stroke-width="1.00" stroke-linecap="butt"/>
<line x1="693.89" y1="25.00" x2="693.89" y2="26.70" stroke="#000" stroke-width="1.00" stroke-linecap="butt"/>
<line x1="705.64" y1="162.40" x2="705.64" y2="164.10" stroke="#000" stroke-width="1.00" stroke-linecap="butt"/>
<line x1="705.64" y1="25.00" x2="705.64" y2="26.70" stroke="#000" stroke-width="1.00" stroke-linecap="butt"/>
<line x1="717.40" y1="162.40" x2="717.40" y2="164.10" stroke="#000" stroke-width="1.00" stroke-linecap="butt"/>
<line x1="717.40" y1="25.00" x2="717.40" y2="26.70" stroke="#000" stroke-width="1.00" stroke-linecap="butt"/>
<line x1="529.30" y1="162.40" x2="529.30" y2="165.40" stroke="#000" stroke-width="1.00" stroke-linecap="butt"/>
<line x1="529.30" y1="25.00" x2="529.30" y2="28.00" stroke="#000" stroke-width="1.00" stroke-linecap="butt"/>
<line x1="552.81" y1="162.40" x2="552.81" y2="165.40" stroke="#000" stroke-width="1.00" stroke-linecap="butt"/>
<line x1="552.81" y1="25.00" x2="552.81" y2="28.00" stroke="#000" stroke-width="1.00" stroke-linecap="butt"/>
<line x1="576.32" y1="162.40" x2="576.32" y2="165.40" stroke="#000" stroke-width="1.00" stroke-linecap="butt"/>
<line x1="576.32" y1="25.00" x2="576.32" y2="28.00" stroke="#000" stroke-width="1.00" stroke-linecap="butt"/>
<line x1="599.84" y1="162.40" x2="599.84" y2="165.40" stroke="#000" stroke-width="1.00" stroke-linecap="butt"/>
<line x1="599.84" y1="25.00" x2="599.84" y2="28.00" stroke="#000" stroke-width="1.00" stroke-linecap="butt"/>
<line x1="623.35" y1="162.40" x2="623.35" y2="165.40" stroke="#000" stroke-width="1.00" stroke-linecap="butt"/>
<line x1="623.35" y1="25.00" x2="623.35" y2="28.00" stroke="#000" stroke-width="1.00" stroke-linecap="butt"/>
<line x1="646.86" y1="162.40" x2="646.86" y2="165.40" stroke="#000" stroke-width="1.00" stroke-linecap="butt"/>
<line x1="646.86" y1="25.00" x2="646.86" y2="28.00" stroke="#000" stroke-width="1.00" stroke-linecap="butt"/>
<line x1="670.38" y1="162.40" x2="670.38" y2="165.40" stroke="#000" stroke-width="1.00" stroke-linecap="butt"/>
<line x1="670.38" y1="25.00" x2="670.38" y2="28.00" stroke="#000" stroke-width="1.00" stroke-linecap="butt"/>
<line x1="693.89" y1="162.40" x2="693.89" y2="165.40" stroke="#000" stroke-width="1.00" stroke-linecap="butt"/>
<line x1="693.89" y1="25.00" x2="693.89" y2="28.00" stroke="#000" stroke-width="1.00" stroke-linecap="butt"/>
<line x1="717.40" y1="162.40" x2="717.40" y2="165.40" stroke="#000" stroke-width="1.00" stroke-linecap="butt"/>
<line x1="717.40" y1="25.00" x2="717.40" y2="28.00" stroke="#000" stroke-width="1.00" stroke-linecap="butt"/>
<line x1="527.60" y1="159.70" x2="529.30" y2="159.70" stroke="#000" stroke-width="1.00" stroke-linecap="butt"/>
<line x1="715.70" y1="159.70" x2="717.40" y2="159.70" stroke="#000" stroke-width="1.00" stroke-linecap="butt"/>
<line x1="527.60" y1="150.85" x2="529.30" y2="150.85" stroke="#000" stroke-width="1.00" stroke-linecap="butt"/>
<line x1="715.70" y1="150.85" x2="717.40" y2="150.85" stroke="#000" stroke-width="1.00" stroke-linecap="butt"/>
<line x1="527.60" y1="142.00" x2="529.30" y2="142.00" stroke="#000" stroke-width="1.00" stroke-linecap="butt"/>
<line x1="715.70" y1="142.00" x2="717.40" y2="142.00" stroke="#000" stroke-width="1.00" stroke-linecap="butt"/>
<line x1="527.60" y1="133.15" x2="529.30" y2="133.15" stroke="#000" stroke-width="1.00" stroke-linecap="butt"/>
<line x1="715.70" y1="133.15" x2="717.40" y2="133.15" stroke="#000" stroke-width="1.00" stroke-linecap="butt"/>
<line x1="527.60" y1="124.30" x2="529.30" y2="124.30" stroke="#000" stroke-width="1.00" stroke-linecap="butt"/>
<line x1="715.70" y1="124.30" x2="717.40" y2="124.30" stroke="#000" stroke-width="1.00" stroke-linecap="butt"/>
<line x1="527.60" y1="115.45" x2="529.30" y2="115.45" stroke="#000" stroke-width="1.00" stroke-linecap="butt"/>
<line x1="715.70" y1="115.45" x2="717.40" y2="115.45" stroke="#000" stroke-width="1.00" stroke-linecap="butt"/>
<line x1="527.60" y1="106.60" x2="529.30" y2="106.60" stroke="#000" stroke-width="1.00" stroke-linecap="butt"/>
<line x1="715.70" y1="106.60" x2="717.40" y2="106.60" stroke="#000" stroke-width="1.00" stroke-linecap="butt"/>
<line x1="527.60" y1="97.75" x2="529.30" y2="97.75" stroke="#000" stroke-width="1.00" stroke-linecap="butt"/>
<line x1="715.70" y1="97.75" x2="717.40" y2="97.75" stroke="#000" stroke-width="1.00" stroke-linecap="butt"/>
<line x1="527.60" y1="88.90" x2="529.30" y2="88.90" stroke="#000" stroke-width="1.00" stroke-linecap="butt"/>
<line x1="715.70" y1="88.90" x2="717.40" y2="88.90" stroke="#000" stroke-width="1.00" stroke-linecap="butt"/>
<line x1="527.60" y1="80.05" x2="529.30" y2="80.05" stroke="#000" stroke-width="1.00" stroke-linecap="butt"/>
<line x1="715.70" y1="80.05" x2="717.40" y2="80.05" stroke="#000" stroke-width="1.00" stroke-linecap="butt"/>
<line x1="527.60" y1="71.20" x2="529.30" y2="71.20" stroke="#000" stroke-width="1.00" stroke-linecap="butt"/>
<line x1="715.70" y1="71.20" x2="717.40" y2="71.20" stroke="#000" stroke-width="1.00" stroke-linecap="butt"/>
<line x1="527.60" y1="62.35" x2="529.30" y2="62.35" stroke="#000" stroke-width="1.00" stroke-linecap="butt"/>
<line x1="715.70" y1="62.35" x2="717.40" y2="62.35" stroke="#000" stroke-width="1.00" stroke-linecap="butt"/>
<line x1="527.60" y1="53.50" x2="529.30" y2="53.50" stroke="#000" stroke-width="1.00" stroke-linecap="butt"/>
<line x1="715.70" y1="53.50" x2="717.40" y2="53.50" stroke="#000" stroke-width="1.00" stroke-linecap="butt"/>
<line x1="527.60" y1="44.65" x2="529.30" y2="44.65" stroke="#000" stroke-width="1.00" stroke-linecap="butt"/>
<line x1="715.70" y1="44.65" x2="717.40" y2="44.65" stroke="#000" stroke-width="1.00" stroke-linecap="butt"/>
<line x1="527.60" y1="35.80" x2="529.30" y2="35.80" stroke="#000" stroke-width="1.00" stroke-linecap="butt"/>
<line x1="715.70" y1="35.80" x2="717.40" y2="35.80" stroke="#000" stroke-width="1.00" stroke-linecap="butt"/>
<line x1="527.60" y1="26.95" x2="529.30" y2="26.95" stroke="#000" stroke-width="1.00" stroke-linecap="butt"/>
<line x1="715.70" y1="26.95" x2="717.40" y2="26.95" stroke="#000" stroke-width="1.00" stroke-linecap="butt"/>
<line x1="526.30" y1="159.70" x2="529.30" y2="159.70" stroke="#000" stroke-width="1.00" stroke-linecap="butt"/>
<line x1="714.40" y1="159.70" x2="717.40" y2="159.70" stroke="#000" stroke-width="1.00" stroke-linecap="butt"/>
<line x1="526.30" y1="142.00" x2="529.30" y2="142.00" stroke="#000" stroke-width="1.00" stroke-linecap="butt"/>
<line x1="714.40" y1="142.00" x2="717.40" y2="142.00" stroke="#000" stroke-width="1.00" stroke-linecap="butt"/>
<line x1="526.30" y1="124.30" x2="529.30" y2="124.30" stroke="#000" stroke-width="1.00" stroke-linecap="butt"/>
<line x1="714.40" y1="124.30" x2="717.40" y2="124.30" stroke="#000" stroke-width="1.00" stroke-linecap="butt"/>
<line x1="526.30" y1="106.60" x2="529.30" y2="106.60" stroke="#000" stroke-width="1.00" stroke-linecap="butt"/>
<line x1="714.40" y1="106.60" x2="717.40" y2="106.60" stroke="#000" stroke-width="1.00" stroke-linecap="butt"/>
<line x1="526.30" y1="88.90" x2="529.30" y2="88.90" stroke="#000" stroke-width="1.00" stroke-linecap="butt"/>
<line x1="714.40" y1="88.90" x2="717.40" y2="88.90" stroke="#000" stroke-width="1.00" stroke-linecap="butt"/>
<line x1="526.30" y1="71.20" x2="529.30" y2="71.20" stroke="#000" stroke-width="1.00" stroke-linecap="butt"/>
<line x1="714.40" y1="71.20" x2="717.40" y2="71.20" stroke="#000" stroke-width="1.00" stroke-linecap="butt"/>
<line x1="526.30" y1="53.50" x2="529.30" y2="53.50" stroke="#000" stroke-width="1.00" stroke-linecap="butt"/>
<line x1="714.40" y1="53.50" x2="717.40" y2="53.50" stroke="#000" stroke-width="1.00" stroke-linecap="butt"/>
<line x1="526.30" y1="35.80" x2="529.30" y2="35.80" stroke="#000" stroke-width="1.00" stroke-linecap="butt"/>
<line x1="714.40" y1="35.80" x2="717.40" y2="35.80" stroke="#000" stroke-width="1.00" stroke-linecap="butt"/>
<rect x="529.30" y="25.00" width="188.10" height="137.40" fill="none" stroke="#1a1a1a" stroke-width="1.50"/>
<text transform="translate(526.86 174.40) scale(1.0600 1.0000)" font-size="9.20" fill="#000"><tspan>0</tspan></text>
<text transform="translate(545.29 174.40) scale(1.0600 1.0000)" font-size="9.20" fill="#000"><tspan>100</tspan></text>
<text transform="translate(568.99 174.40) scale(1.0600 1.0000)" font-size="9.20" fill="#000"><tspan>200</tspan></text>
<text transform="translate(592.53 174.40) scale(1.0600 1.0000)" font-size="9.20" fill="#000"><tspan>300</tspan></text>
<text transform="translate(616.16 174.40) scale(1.0600 1.0000)" font-size="9.20" fill="#000"><tspan>400</tspan></text>
<text transform="translate(639.54 174.40) scale(1.0600 1.0000)" font-size="9.20" fill="#000"><tspan>500</tspan></text>
<text transform="translate(663.08 174.40) scale(1.0600 1.0000)" font-size="9.20" fill="#000"><tspan>600</tspan></text>
<text transform="translate(686.48 174.40) scale(1.0600 1.0000)" font-size="9.20" fill="#000"><tspan>700</tspan></text>
<text transform="translate(710.11 174.40) scale(1.0600 1.0000)" font-size="9.20" fill="#000"><tspan>800</tspan></text>
<text transform="translate(512.48 162.70) scale(1.0600 1.0000)" font-size="9.20" fill="#000"><tspan>0.0</tspan></text>
<text transform="translate(512.53 145.00) scale(1.0600 1.0000)" font-size="9.20" fill="#000"><tspan>0.2</tspan></text>
<text transform="translate(512.29 127.30) scale(1.0600 1.0000)" font-size="9.20" fill="#000"><tspan>0.4</tspan></text>
<text transform="translate(512.40 109.60) scale(1.0600 1.0000)" font-size="9.20" fill="#000"><tspan>0.6</tspan></text>
<text transform="translate(512.43 91.90) scale(1.0600 1.0000)" font-size="9.20" fill="#000"><tspan>0.8</tspan></text>
<text transform="translate(512.48 74.20) scale(1.0600 1.0000)" font-size="9.20" fill="#000"><tspan>1.0</tspan></text>
<text transform="translate(512.53 56.50) scale(1.0600 1.0000)" font-size="9.20" fill="#000"><tspan>1.2</tspan></text>
<text transform="translate(512.29 38.80) scale(1.0600 1.0000)" font-size="9.20" fill="#000"><tspan>1.4</tspan></text>
<line x1="43.17" y1="347.90" x2="43.17" y2="349.60" stroke="#000" stroke-width="1.00" stroke-linecap="butt"/>
<line x1="43.17" y1="211.60" x2="43.17" y2="213.30" stroke="#000" stroke-width="1.00" stroke-linecap="butt"/>
<line x1="52.50" y1="347.90" x2="52.50" y2="349.60" stroke="#000" stroke-width="1.00" stroke-linecap="butt"/>
<line x1="52.50" y1="211.60" x2="52.50" y2="213.30" stroke="#000" stroke-width="1.00" stroke-linecap="butt"/>
<line x1="61.83" y1="347.90" x2="61.83" y2="349.60" stroke="#000" stroke-width="1.00" stroke-linecap="butt"/>
<line x1="61.83" y1="211.60" x2="61.83" y2="213.30" stroke="#000" stroke-width="1.00" stroke-linecap="butt"/>
<line x1="71.17" y1="347.90" x2="71.17" y2="349.60" stroke="#000" stroke-width="1.00" stroke-linecap="butt"/>
<line x1="71.17" y1="211.60" x2="71.17" y2="213.30" stroke="#000" stroke-width="1.00" stroke-linecap="butt"/>
<line x1="80.50" y1="347.90" x2="80.50" y2="349.60" stroke="#000" stroke-width="1.00" stroke-linecap="butt"/>
<line x1="80.50" y1="211.60" x2="80.50" y2="213.30" stroke="#000" stroke-width="1.00" stroke-linecap="butt"/>
<line x1="89.83" y1="347.90" x2="89.83" y2="349.60" stroke="#000" stroke-width="1.00" stroke-linecap="butt"/>
<line x1="89.83" y1="211.60" x2="89.83" y2="213.30" stroke="#000" stroke-width="1.00" stroke-linecap="butt"/>
<line x1="99.17" y1="347.90" x2="99.17" y2="349.60" stroke="#000" stroke-width="1.00" stroke-linecap="butt"/>
<line x1="99.17" y1="211.60" x2="99.17" y2="213.30" stroke="#000" stroke-width="1.00" stroke-linecap="butt"/>
<line x1="108.50" y1="347.90" x2="108.50" y2="349.60" stroke="#000" stroke-width="1.00" stroke-linecap="butt"/>
<line x1="108.50" y1="211.60" x2="108.50" y2="213.30" stroke="#000" stroke-width="1.00" stroke-linecap="butt"/>
<line x1="117.83" y1="347.90" x2="117.83" y2="349.60" stroke="#000" stroke-width="1.00" stroke-linecap="butt"/>
<line x1="117.83" y1="211.60" x2="117.83" y2="213.30" stroke="#000" stroke-width="1.00" stroke-linecap="butt"/>
<line x1="127.17" y1="347.90" x2="127.17" y2="349.60" stroke="#000" stroke-width="1.00" stroke-linecap="butt"/>
<line x1="127.17" y1="211.60" x2="127.17" y2="213.30" stroke="#000" stroke-width="1.00" stroke-linecap="butt"/>
<line x1="136.50" y1="347.90" x2="136.50" y2="349.60" stroke="#000" stroke-width="1.00" stroke-linecap="butt"/>
<line x1="136.50" y1="211.60" x2="136.50" y2="213.30" stroke="#000" stroke-width="1.00" stroke-linecap="butt"/>
<line x1="145.83" y1="347.90" x2="145.83" y2="349.60" stroke="#000" stroke-width="1.00" stroke-linecap="butt"/>
<line x1="145.83" y1="211.60" x2="145.83" y2="213.30" stroke="#000" stroke-width="1.00" stroke-linecap="butt"/>
<line x1="155.17" y1="347.90" x2="155.17" y2="349.60" stroke="#000" stroke-width="1.00" stroke-linecap="butt"/>
<line x1="155.17" y1="211.60" x2="155.17" y2="213.30" stroke="#000" stroke-width="1.00" stroke-linecap="butt"/>
<line x1="164.50" y1="347.90" x2="164.50" y2="349.60" stroke="#000" stroke-width="1.00" stroke-linecap="butt"/>
<line x1="164.50" y1="211.60" x2="164.50" y2="213.30" stroke="#000" stroke-width="1.00" stroke-linecap="butt"/>
<line x1="173.83" y1="347.90" x2="173.83" y2="349.60" stroke="#000" stroke-width="1.00" stroke-linecap="butt"/>
<line x1="173.83" y1="211.60" x2="173.83" y2="213.30" stroke="#000" stroke-width="1.00" stroke-linecap="butt"/>
<line x1="183.17" y1="347.90" x2="183.17" y2="349.60" stroke="#000" stroke-width="1.00" stroke-linecap="butt"/>
<line x1="183.17" y1="211.60" x2="183.17" y2="213.30" stroke="#000" stroke-width="1.00" stroke-linecap="butt"/>
<line x1="192.50" y1="347.90" x2="192.50" y2="349.60" stroke="#000" stroke-width="1.00" stroke-linecap="butt"/>
<line x1="192.50" y1="211.60" x2="192.50" y2="213.30" stroke="#000" stroke-width="1.00" stroke-linecap="butt"/>
<line x1="201.83" y1="347.90" x2="201.83" y2="349.60" stroke="#000" stroke-width="1.00" stroke-linecap="butt"/>
<line x1="201.83" y1="211.60" x2="201.83" y2="213.30" stroke="#000" stroke-width="1.00" stroke-linecap="butt"/>
<line x1="211.17" y1="347.90" x2="211.17" y2="349.60" stroke="#000" stroke-width="1.00" stroke-linecap="butt"/>
<line x1="211.17" y1="211.60" x2="211.17" y2="213.30" stroke="#000" stroke-width="1.00" stroke-linecap="butt"/>
<line x1="220.50" y1="347.90" x2="220.50" y2="349.60" stroke="#000" stroke-width="1.00" stroke-linecap="butt"/>
<line x1="220.50" y1="211.60" x2="220.50" y2="213.30" stroke="#000" stroke-width="1.00" stroke-linecap="butt"/>
<line x1="229.83" y1="347.90" x2="229.83" y2="349.60" stroke="#000" stroke-width="1.00" stroke-linecap="butt"/>
<line x1="229.83" y1="211.60" x2="229.83" y2="213.30" stroke="#000" stroke-width="1.00" stroke-linecap="butt"/>
<line x1="52.50" y1="347.90" x2="52.50" y2="350.90" stroke="#000" stroke-width="1.00" stroke-linecap="butt"/>
<line x1="52.50" y1="211.60" x2="52.50" y2="214.60" stroke="#000" stroke-width="1.00" stroke-linecap="butt"/>
<line x1="71.17" y1="347.90" x2="71.17" y2="350.90" stroke="#000" stroke-width="1.00" stroke-linecap="butt"/>
<line x1="71.17" y1="211.60" x2="71.17" y2="214.60" stroke="#000" stroke-width="1.00" stroke-linecap="butt"/>
<line x1="89.83" y1="347.90" x2="89.83" y2="350.90" stroke="#000" stroke-width="1.00" stroke-linecap="butt"/>
<line x1="89.83" y1="211.60" x2="89.83" y2="214.60" stroke="#000" stroke-width="1.00" stroke-linecap="butt"/>
<line x1="108.50" y1="347.90" x2="108.50" y2="350.90" stroke="#000" stroke-width="1.00" stroke-linecap="butt"/>
<line x1="108.50" y1="211.60" x2="108.50" y2="214.60" stroke="#000" stroke-width="1.00" stroke-linecap="butt"/>
<line x1="127.17" y1="347.90" x2="127.17" y2="350.90" stroke="#000" stroke-width="1.00" stroke-linecap="butt"/>
<line x1="127.17" y1="211.60" x2="127.17" y2="214.60" stroke="#000" stroke-width="1.00" stroke-linecap="butt"/>
<line x1="145.83" y1="347.90" x2="145.83" y2="350.90" stroke="#000" stroke-width="1.00" stroke-linecap="butt"/>
<line x1="145.83" y1="211.60" x2="145.83" y2="214.60" stroke="#000" stroke-width="1.00" stroke-linecap="butt"/>
<line x1="164.50" y1="347.90" x2="164.50" y2="350.90" stroke="#000" stroke-width="1.00" stroke-linecap="butt"/>
<line x1="164.50" y1="211.60" x2="164.50" y2="214.60" stroke="#000" stroke-width="1.00" stroke-linecap="butt"/>
<line x1="183.17" y1="347.90" x2="183.17" y2="350.90" stroke="#000" stroke-width="1.00" stroke-linecap="butt"/>
<line x1="183.17" y1="211.60" x2="183.17" y2="214.60" stroke="#000" stroke-width="1.00" stroke-linecap="butt"/>
<line x1="201.83" y1="347.90" x2="201.83" y2="350.90" stroke="#000" stroke-width="1.00" stroke-linecap="butt"/>
<line x1="201.83" y1="211.60" x2="201.83" y2="214.60" stroke="#000" stroke-width="1.00" stroke-linecap="butt"/>
<line x1="220.50" y1="347.90" x2="220.50" y2="350.90" stroke="#000" stroke-width="1.00" stroke-linecap="butt"/>
<line x1="220.50" y1="211.60" x2="220.50" y2="214.60" stroke="#000" stroke-width="1.00" stroke-linecap="butt"/>
<line x1="41.30" y1="338.00" x2="43.00" y2="338.00" stroke="#000" stroke-width="1.00" stroke-linecap="butt"/>
<line x1="228.40" y1="338.00" x2="230.10" y2="338.00" stroke="#000" stroke-width="1.00" stroke-linecap="butt"/>
<line x1="41.30" y1="327.48" x2="43.00" y2="327.48" stroke="#000" stroke-width="1.00" stroke-linecap="butt"/>
<line x1="228.40" y1="327.48" x2="230.10" y2="327.48" stroke="#000" stroke-width="1.00" stroke-linecap="butt"/>
<line x1="41.30" y1="316.95" x2="43.00" y2="316.95" stroke="#000" stroke-width="1.00" stroke-linecap="butt"/>
<line x1="228.40" y1="316.95" x2="230.10" y2="316.95" stroke="#000" stroke-width="1.00" stroke-linecap="butt"/>
<line x1="41.30" y1="306.43" x2="43.00" y2="306.43" stroke="#000" stroke-width="1.00" stroke-linecap="butt"/>
<line x1="228.40" y1="306.43" x2="230.10" y2="306.43" stroke="#000" stroke-width="1.00" stroke-linecap="butt"/>
<line x1="41.30" y1="295.90" x2="43.00" y2="295.90" stroke="#000" stroke-width="1.00" stroke-linecap="butt"/>
<line x1="228.40" y1="295.90" x2="230.10" y2="295.90" stroke="#000" stroke-width="1.00" stroke-linecap="butt"/>
<line x1="41.30" y1="285.38" x2="43.00" y2="285.38" stroke="#000" stroke-width="1.00" stroke-linecap="butt"/>
<line x1="228.40" y1="285.38" x2="230.10" y2="285.38" stroke="#000" stroke-width="1.00" stroke-linecap="butt"/>
<line x1="41.30" y1="274.85" x2="43.00" y2="274.85" stroke="#000" stroke-width="1.00" stroke-linecap="butt"/>
<line x1="228.40" y1="274.85" x2="230.10" y2="274.85" stroke="#000" stroke-width="1.00" stroke-linecap="butt"/>
<line x1="41.30" y1="264.32" x2="43.00" y2="264.32" stroke="#000" stroke-width="1.00" stroke-linecap="butt"/>
<line x1="228.40" y1="264.32" x2="230.10" y2="264.32" stroke="#000" stroke-width="1.00" stroke-linecap="butt"/>
<line x1="41.30" y1="253.80" x2="43.00" y2="253.80" stroke="#000" stroke-width="1.00" stroke-linecap="butt"/>
<line x1="228.40" y1="253.80" x2="230.10" y2="253.80" stroke="#000" stroke-width="1.00" stroke-linecap="butt"/>
<line x1="41.30" y1="243.27" x2="43.00" y2="243.27" stroke="#000" stroke-width="1.00" stroke-linecap="butt"/>
<line x1="228.40" y1="243.27" x2="230.10" y2="243.27" stroke="#000" stroke-width="1.00" stroke-linecap="butt"/>
<line x1="41.30" y1="232.75" x2="43.00" y2="232.75" stroke="#000" stroke-width="1.00" stroke-linecap="butt"/>
<line x1="228.40" y1="232.75" x2="230.10" y2="232.75" stroke="#000" stroke-width="1.00" stroke-linecap="butt"/>
<line x1="41.30" y1="222.22" x2="43.00" y2="222.22" stroke="#000" stroke-width="1.00" stroke-linecap="butt"/>
<line x1="228.40" y1="222.22" x2="230.10" y2="222.22" stroke="#000" stroke-width="1.00" stroke-linecap="butt"/>
<line x1="41.30" y1="211.70" x2="43.00" y2="211.70" stroke="#000" stroke-width="1.00" stroke-linecap="butt"/>
<line x1="228.40" y1="211.70" x2="230.10" y2="211.70" stroke="#000" stroke-width="1.00" stroke-linecap="butt"/>
<line x1="40.00" y1="338.00" x2="43.00" y2="338.00" stroke="#000" stroke-width="1.00" stroke-linecap="butt"/>
<line x1="227.10" y1="338.00" x2="230.10" y2="338.00" stroke="#000" stroke-width="1.00" stroke-linecap="butt"/>
<line x1="40.00" y1="316.95" x2="43.00" y2="316.95" stroke="#000" stroke-width="1.00" stroke-linecap="butt"/>
<line x1="227.10" y1="316.95" x2="230.10" y2="316.95" stroke="#000" stroke-width="1.00" stroke-linecap="butt"/>
<line x1="40.00" y1="295.90" x2="43.00" y2="295.90" stroke="#000" stroke-width="1.00" stroke-linecap="butt"/>
<line x1="227.10" y1="295.90" x2="230.10" y2="295.90" stroke="#000" stroke-width="1.00" stroke-linecap="butt"/>
<line x1="40.00" y1="274.85" x2="43.00" y2="274.85" stroke="#000" stroke-width="1.00" stroke-linecap="butt"/>
<line x1="227.10" y1="274.85" x2="230.10" y2="274.85" stroke="#000" stroke-width="1.00" stroke-linecap="butt"/>
<line x1="40.00" y1="253.80" x2="43.00" y2="253.80" stroke="#000" stroke-width="1.00" stroke-linecap="butt"/>
<line x1="227.10" y1="253.80" x2="230.10" y2="253.80" stroke="#000" stroke-width="1.00" stroke-linecap="butt"/>
<line x1="40.00" y1="232.75" x2="43.00" y2="232.75" stroke="#000" stroke-width="1.00" stroke-linecap="butt"/>
<line x1="227.10" y1="232.75" x2="230.10" y2="232.75" stroke="#000" stroke-width="1.00" stroke-linecap="butt"/>
<line x1="40.00" y1="211.70" x2="43.00" y2="211.70" stroke="#000" stroke-width="1.00" stroke-linecap="butt"/>
<line x1="227.10" y1="211.70" x2="230.10" y2="211.70" stroke="#000" stroke-width="1.00" stroke-linecap="butt"/>
<rect x="43.00" y="211.60" width="187.10" height="136.30" fill="none" stroke="#1a1a1a" stroke-width="1.50"/>
<text transform="translate(46.41 359.90) scale(1.0600 1.0000)" font-size="9.20" fill="#000"><tspan>0.0</tspan></text>
<text transform="translate(65.10 359.90) scale(1.0600 1.0000)" font-size="9.20" fill="#000"><tspan>0.2</tspan></text>
<text transform="translate(83.64 359.90) scale(1.0600 1.0000)" font-size="9.20" fill="#000"><tspan>0.4</tspan></text>
<text transform="translate(102.36 359.90) scale(1.0600 1.0000)" font-size="9.20" fill="#000"><tspan>0.6</tspan></text>
<text transform="translate(121.05 359.90) scale(1.0600 1.0000)" font-size="9.20" fill="#000"><tspan>0.8</tspan></text>
<text transform="translate(139.53 359.90) scale(1.0600 1.0000)" font-size="9.20" fill="#000"><tspan>1.0</tspan></text>
<text transform="translate(158.22 359.90) scale(1.0600 1.0000)" font-size="9.20" fill="#000"><tspan>1.2</tspan></text>
<text transform="translate(176.77 359.90) scale(1.0600 1.0000)" font-size="9.20" fill="#000"><tspan>1.4</tspan></text>
<text transform="translate(195.49 359.90) scale(1.0600 1.0000)" font-size="9.20" fill="#000"><tspan>1.6</tspan></text>
<text transform="translate(214.18 359.90) scale(1.0600 1.0000)" font-size="9.20" fill="#000"><tspan>1.8</tspan></text>
<text transform="translate(30.11 341.00) scale(1.0600 1.0000)" font-size="9.20" fill="#000"><tspan>-3</tspan></text>
<text transform="translate(30.20 319.95) scale(1.0600 1.0000)" font-size="9.20" fill="#000"><tspan>-2</tspan></text>
<text transform="translate(30.28 298.90) scale(1.0600 1.0000)" font-size="9.20" fill="#000"><tspan>-1</tspan></text>
<text transform="translate(33.40 277.85) scale(1.0600 1.0000)" font-size="9.20" fill="#000"><tspan>0</tspan></text>
<text transform="translate(33.53 256.80) scale(1.0600 1.0000)" font-size="9.20" fill="#000"><tspan>1</tspan></text>
<text transform="translate(33.44 235.75) scale(1.0600 1.0000)" font-size="9.20" fill="#000"><tspan>2</tspan></text>
<text transform="translate(33.36 214.70) scale(1.0600 1.0000)" font-size="9.20" fill="#000"><tspan>3</tspan></text>
<line x1="288.00" y1="346.70" x2="288.00" y2="348.40" stroke="#000" stroke-width="1.00" stroke-linecap="butt"/>
<line x1="288.00" y1="210.90" x2="288.00" y2="212.60" stroke="#000" stroke-width="1.00" stroke-linecap="butt"/>
<line x1="300.42" y1="346.70" x2="300.42" y2="348.40" stroke="#000" stroke-width="1.00" stroke-linecap="butt"/>
<line x1="300.42" y1="210.90" x2="300.42" y2="212.60" stroke="#000" stroke-width="1.00" stroke-linecap="butt"/>
<line x1="312.84" y1="346.70" x2="312.84" y2="348.40" stroke="#000" stroke-width="1.00" stroke-linecap="butt"/>
<line x1="312.84" y1="210.90" x2="312.84" y2="212.60" stroke="#000" stroke-width="1.00" stroke-linecap="butt"/>
<line x1="325.26" y1="346.70" x2="325.26" y2="348.40" stroke="#000" stroke-width="1.00" stroke-linecap="butt"/>
<line x1="325.26" y1="210.90" x2="325.26" y2="212.60" stroke="#000" stroke-width="1.00" stroke-linecap="butt"/>
<line x1="337.69" y1="346.70" x2="337.69" y2="348.40" stroke="#000" stroke-width="1.00" stroke-linecap="butt"/>
<line x1="337.69" y1="210.90" x2="337.69" y2="212.60" stroke="#000" stroke-width="1.00" stroke-linecap="butt"/>
<line x1="350.11" y1="346.70" x2="350.11" y2="348.40" stroke="#000" stroke-width="1.00" stroke-linecap="butt"/>
<line x1="350.11" y1="210.90" x2="350.11" y2="212.60" stroke="#000" stroke-width="1.00" stroke-linecap="butt"/>
<line x1="362.53" y1="346.70" x2="362.53" y2="348.40" stroke="#000" stroke-width="1.00" stroke-linecap="butt"/>
<line x1="362.53" y1="210.90" x2="362.53" y2="212.60" stroke="#000" stroke-width="1.00" stroke-linecap="butt"/>
<line x1="374.95" y1="346.70" x2="374.95" y2="348.40" stroke="#000" stroke-width="1.00" stroke-linecap="butt"/>
<line x1="374.95" y1="210.90" x2="374.95" y2="212.60" stroke="#000" stroke-width="1.00" stroke-linecap="butt"/>
<line x1="387.37" y1="346.70" x2="387.37" y2="348.40" stroke="#000" stroke-width="1.00" stroke-linecap="butt"/>
<line x1="387.37" y1="210.90" x2="387.37" y2="212.60" stroke="#000" stroke-width="1.00" stroke-linecap="butt"/>
<line x1="399.79" y1="346.70" x2="399.79" y2="348.40" stroke="#000" stroke-width="1.00" stroke-linecap="butt"/>
<line x1="399.79" y1="210.90" x2="399.79" y2="212.60" stroke="#000" stroke-width="1.00" stroke-linecap="butt"/>
<line x1="412.21" y1="346.70" x2="412.21" y2="348.40" stroke="#000" stroke-width="1.00" stroke-linecap="butt"/>
<line x1="412.21" y1="210.90" x2="412.21" y2="212.60" stroke="#000" stroke-width="1.00" stroke-linecap="butt"/>
<line x1="424.64" y1="346.70" x2="424.64" y2="348.40" stroke="#000" stroke-width="1.00" stroke-linecap="butt"/>
<line x1="424.64" y1="210.90" x2="424.64" y2="212.60" stroke="#000" stroke-width="1.00" stroke-linecap="butt"/>
<line x1="437.06" y1="346.70" x2="437.06" y2="348.40" stroke="#000" stroke-width="1.00" stroke-linecap="butt"/>
<line x1="437.06" y1="210.90" x2="437.06" y2="212.60" stroke="#000" stroke-width="1.00" stroke-linecap="butt"/>
<line x1="449.48" y1="346.70" x2="449.48" y2="348.40" stroke="#000" stroke-width="1.00" stroke-linecap="butt"/>
<line x1="449.48" y1="210.90" x2="449.48" y2="212.60" stroke="#000" stroke-width="1.00" stroke-linecap="butt"/>
<line x1="461.90" y1="346.70" x2="461.90" y2="348.40" stroke="#000" stroke-width="1.00" stroke-linecap="butt"/>
<line x1="461.90" y1="210.90" x2="461.90" y2="212.60" stroke="#000" stroke-width="1.00" stroke-linecap="butt"/>
<line x1="474.32" y1="346.70" x2="474.32" y2="348.40" stroke="#000" stroke-width="1.00" stroke-linecap="butt"/>
<line x1="474.32" y1="210.90" x2="474.32" y2="212.60" stroke="#000" stroke-width="1.00" stroke-linecap="butt"/>
<line x1="288.00" y1="346.70" x2="288.00" y2="349.70" stroke="#000" stroke-width="1.00" stroke-linecap="butt"/>
<line x1="288.00" y1="210.90" x2="288.00" y2="213.90" stroke="#000" stroke-width="1.00" stroke-linecap="butt"/>
<line x1="312.84" y1="346.70" x2="312.84" y2="349.70" stroke="#000" stroke-width="1.00" stroke-linecap="butt"/>
<line x1="312.84" y1="210.90" x2="312.84" y2="213.90" stroke="#000" stroke-width="1.00" stroke-linecap="butt"/>
<line x1="337.69" y1="346.70" x2="337.69" y2="349.70" stroke="#000" stroke-width="1.00" stroke-linecap="butt"/>
<line x1="337.69" y1="210.90" x2="337.69" y2="213.90" stroke="#000" stroke-width="1.00" stroke-linecap="butt"/>
<line x1="362.53" y1="346.70" x2="362.53" y2="349.70" stroke="#000" stroke-width="1.00" stroke-linecap="butt"/>
<line x1="362.53" y1="210.90" x2="362.53" y2="213.90" stroke="#000" stroke-width="1.00" stroke-linecap="butt"/>
<line x1="387.37" y1="346.70" x2="387.37" y2="349.70" stroke="#000" stroke-width="1.00" stroke-linecap="butt"/>
<line x1="387.37" y1="210.90" x2="387.37" y2="213.90" stroke="#000" stroke-width="1.00" stroke-linecap="butt"/>
<line x1="412.21" y1="346.70" x2="412.21" y2="349.70" stroke="#000" stroke-width="1.00" stroke-linecap="butt"/>
<line x1="412.21" y1="210.90" x2="412.21" y2="213.90" stroke="#000" stroke-width="1.00" stroke-linecap="butt"/>
<line x1="437.06" y1="346.70" x2="437.06" y2="349.70" stroke="#000" stroke-width="1.00" stroke-linecap="butt"/>
<line x1="437.06" y1="210.90" x2="437.06" y2="213.90" stroke="#000" stroke-width="1.00" stroke-linecap="butt"/>
<line x1="461.90" y1="346.70" x2="461.90" y2="349.70" stroke="#000" stroke-width="1.00" stroke-linecap="butt"/>
<line x1="461.90" y1="210.90" x2="461.90" y2="213.90" stroke="#000" stroke-width="1.00" stroke-linecap="butt"/>
<line x1="286.00" y1="347.11" x2="287.70" y2="347.11" stroke="#000" stroke-width="1.00" stroke-linecap="butt"/>
<line x1="472.50" y1="347.11" x2="474.20" y2="347.11" stroke="#000" stroke-width="1.00" stroke-linecap="butt"/>
<line x1="286.00" y1="340.30" x2="287.70" y2="340.30" stroke="#000" stroke-width="1.00" stroke-linecap="butt"/>
<line x1="472.50" y1="340.30" x2="474.20" y2="340.30" stroke="#000" stroke-width="1.00" stroke-linecap="butt"/>
<line x1="286.00" y1="333.49" x2="287.70" y2="333.49" stroke="#000" stroke-width="1.00" stroke-linecap="butt"/>
<line x1="472.50" y1="333.49" x2="474.20" y2="333.49" stroke="#000" stroke-width="1.00" stroke-linecap="butt"/>
<line x1="286.00" y1="326.69" x2="287.70" y2="326.69" stroke="#000" stroke-width="1.00" stroke-linecap="butt"/>
<line x1="472.50" y1="326.69" x2="474.20" y2="326.69" stroke="#000" stroke-width="1.00" stroke-linecap="butt"/>
<line x1="286.00" y1="319.88" x2="287.70" y2="319.88" stroke="#000" stroke-width="1.00" stroke-linecap="butt"/>
<line x1="472.50" y1="319.88" x2="474.20" y2="319.88" stroke="#000" stroke-width="1.00" stroke-linecap="butt"/>
<line x1="286.00" y1="313.08" x2="287.70" y2="313.08" stroke="#000" stroke-width="1.00" stroke-linecap="butt"/>
<line x1="472.50" y1="313.08" x2="474.20" y2="313.08" stroke="#000" stroke-width="1.00" stroke-linecap="butt"/>
<line x1="286.00" y1="306.27" x2="287.70" y2="306.27" stroke="#000" stroke-width="1.00" stroke-linecap="butt"/>
<line x1="472.50" y1="306.27" x2="474.20" y2="306.27" stroke="#000" stroke-width="1.00" stroke-linecap="butt"/>
<line x1="286.00" y1="299.47" x2="287.70" y2="299.47" stroke="#000" stroke-width="1.00" stroke-linecap="butt"/>
<line x1="472.50" y1="299.47" x2="474.20" y2="299.47" stroke="#000" stroke-width="1.00" stroke-linecap="butt"/>
<line x1="286.00" y1="292.66" x2="287.70" y2="292.66" stroke="#000" stroke-width="1.00" stroke-linecap="butt"/>
<line x1="472.50" y1="292.66" x2="474.20" y2="292.66" stroke="#000" stroke-width="1.00" stroke-linecap="butt"/>
<line x1="286.00" y1="285.86" x2="287.70" y2="285.86" stroke="#000" stroke-width="1.00" stroke-linecap="butt"/>
<line x1="472.50" y1="285.86" x2="474.20" y2="285.86" stroke="#000" stroke-width="1.00" stroke-linecap="butt"/>
<line x1="286.00" y1="279.05" x2="287.70" y2="279.05" stroke="#000" stroke-width="1.00" stroke-linecap="butt"/>
<line x1="472.50" y1="279.05" x2="474.20" y2="279.05" stroke="#000" stroke-width="1.00" stroke-linecap="butt"/>
<line x1="286.00" y1="272.24" x2="287.70" y2="272.24" stroke="#000" stroke-width="1.00" stroke-linecap="butt"/>
<line x1="472.50" y1="272.24" x2="474.20" y2="272.24" stroke="#000" stroke-width="1.00" stroke-linecap="butt"/>
<line x1="286.00" y1="265.44" x2="287.70" y2="265.44" stroke="#000" stroke-width="1.00" stroke-linecap="butt"/>
<line x1="472.50" y1="265.44" x2="474.20" y2="265.44" stroke="#000" stroke-width="1.00" stroke-linecap="butt"/>
<line x1="286.00" y1="258.63" x2="287.70" y2="258.63" stroke="#000" stroke-width="1.00" stroke-linecap="butt"/>
<line x1="472.50" y1="258.63" x2="474.20" y2="258.63" stroke="#000" stroke-width="1.00" stroke-linecap="butt"/>
<line x1="286.00" y1="251.83" x2="287.70" y2="251.83" stroke="#000" stroke-width="1.00" stroke-linecap="butt"/>
<line x1="472.50" y1="251.83" x2="474.20" y2="251.83" stroke="#000" stroke-width="1.00" stroke-linecap="butt"/>
<line x1="286.00" y1="245.02" x2="287.70" y2="245.02" stroke="#000" stroke-width="1.00" stroke-linecap="butt"/>
<line x1="472.50" y1="245.02" x2="474.20" y2="245.02" stroke="#000" stroke-width="1.00" stroke-linecap="butt"/>
<line x1="286.00" y1="238.22" x2="287.70" y2="238.22" stroke="#000" stroke-width="1.00" stroke-linecap="butt"/>
<line x1="472.50" y1="238.22" x2="474.20" y2="238.22" stroke="#000" stroke-width="1.00" stroke-linecap="butt"/>
<line x1="286.00" y1="231.41" x2="287.70" y2="231.41" stroke="#000" stroke-width="1.00" stroke-linecap="butt"/>
<line x1="472.50" y1="231.41" x2="474.20" y2="231.41" stroke="#000" stroke-width="1.00" stroke-linecap="butt"/>
<line x1="286.00" y1="224.61" x2="287.70" y2="224.61" stroke="#000" stroke-width="1.00" stroke-linecap="butt"/>
<line x1="472.50" y1="224.61" x2="474.20" y2="224.61" stroke="#000" stroke-width="1.00" stroke-linecap="butt"/>
<line x1="286.00" y1="217.80" x2="287.70" y2="217.80" stroke="#000" stroke-width="1.00" stroke-linecap="butt"/>
<line x1="472.50" y1="217.80" x2="474.20" y2="217.80" stroke="#000" stroke-width="1.00" stroke-linecap="butt"/>
<line x1="286.00" y1="210.99" x2="287.70" y2="210.99" stroke="#000" stroke-width="1.00" stroke-linecap="butt"/>
<line x1="472.50" y1="210.99" x2="474.20" y2="210.99" stroke="#000" stroke-width="1.00" stroke-linecap="butt"/>
<line x1="284.70" y1="340.30" x2="287.70" y2="340.30" stroke="#000" stroke-width="1.00" stroke-linecap="butt"/>
<line x1="471.20" y1="340.30" x2="474.20" y2="340.30" stroke="#000" stroke-width="1.00" stroke-linecap="butt"/>
<line x1="284.70" y1="326.69" x2="287.70" y2="326.69" stroke="#000" stroke-width="1.00" stroke-linecap="butt"/>
<line x1="471.20" y1="326.69" x2="474.20" y2="326.69" stroke="#000" stroke-width="1.00" stroke-linecap="butt"/>
<line x1="284.70" y1="313.08" x2="287.70" y2="313.08" stroke="#000" stroke-width="1.00" stroke-linecap="butt"/>
<line x1="471.20" y1="313.08" x2="474.20" y2="313.08" stroke="#000" stroke-width="1.00" stroke-linecap="butt"/>
<line x1="284.70" y1="299.47" x2="287.70" y2="299.47" stroke="#000" stroke-width="1.00" stroke-linecap="butt"/>
<line x1="471.20" y1="299.47" x2="474.20" y2="299.47" stroke="#000" stroke-width="1.00" stroke-linecap="butt"/>
<line x1="284.70" y1="285.86" x2="287.70" y2="285.86" stroke="#000" stroke-width="1.00" stroke-linecap="butt"/>
<line x1="471.20" y1="285.86" x2="474.20" y2="285.86" stroke="#000" stroke-width="1.00" stroke-linecap="butt"/>
<line x1="284.70" y1="272.24" x2="287.70" y2="272.24" stroke="#000" stroke-width="1.00" stroke-linecap="butt"/>
<line x1="471.20" y1="272.24" x2="474.20" y2="272.24" stroke="#000" stroke-width="1.00" stroke-linecap="butt"/>
<line x1="284.70" y1="258.63" x2="287.70" y2="258.63" stroke="#000" stroke-width="1.00" stroke-linecap="butt"/>
<line x1="471.20" y1="258.63" x2="474.20" y2="258.63" stroke="#000" stroke-width="1.00" stroke-linecap="butt"/>
<line x1="284.70" y1="245.02" x2="287.70" y2="245.02" stroke="#000" stroke-width="1.00" stroke-linecap="butt"/>
<line x1="471.20" y1="245.02" x2="474.20" y2="245.02" stroke="#000" stroke-width="1.00" stroke-linecap="butt"/>
<line x1="284.70" y1="231.41" x2="287.70" y2="231.41" stroke="#000" stroke-width="1.00" stroke-linecap="butt"/>
<line x1="471.20" y1="231.41" x2="474.20" y2="231.41" stroke="#000" stroke-width="1.00" stroke-linecap="butt"/>
<line x1="284.70" y1="217.80" x2="287.70" y2="217.80" stroke="#000" stroke-width="1.00" stroke-linecap="butt"/>
<line x1="471.20" y1="217.80" x2="474.20" y2="217.80" stroke="#000" stroke-width="1.00" stroke-linecap="butt"/>
<rect x="287.70" y="210.90" width="186.50" height="135.80" fill="none" stroke="#1a1a1a" stroke-width="1.50"/>
<text transform="translate(285.56 358.70) scale(1.0600 1.0000)" font-size="9.20" fill="#000"><tspan>0</tspan></text>
<text transform="translate(305.51 358.70) scale(1.0600 1.0000)" font-size="9.20" fill="#000"><tspan>200</tspan></text>
<text transform="translate(330.49 358.70) scale(1.0600 1.0000)" font-size="9.20" fill="#000"><tspan>400</tspan></text>
<text transform="translate(355.23 358.70) scale(1.0600 1.0000)" font-size="9.20" fill="#000"><tspan>600</tspan></text>
<text transform="translate(380.08 358.70) scale(1.0600 1.0000)" font-size="9.20" fill="#000"><tspan>800</tspan></text>
<text transform="translate(402.26 358.70) scale(1.0600 1.0000)" font-size="9.20" fill="#000"><tspan>1000</tspan></text>
<text transform="translate(427.10 358.70) scale(1.0600 1.0000)" font-size="9.20" fill="#000"><tspan>1200</tspan></text>
<text transform="translate(451.94 358.70) scale(1.0600 1.0000)" font-size="9.20" fill="#000"><tspan>1400</tspan></text>
<text transform="translate(270.88 343.30) scale(1.0600 1.0000)" font-size="9.20" fill="#000"><tspan>0.0</tspan></text>
<text transform="translate(270.93 329.69) scale(1.0600 1.0000)" font-size="9.20" fill="#000"><tspan>0.2</tspan></text>
<text transform="translate(270.69 316.08) scale(1.0600 1.0000)" font-size="9.20" fill="#000"><tspan>0.4</tspan></text>
<text transform="translate(270.80 302.47) scale(1.0600 1.0000)" font-size="9.20" fill="#000"><tspan>0.6</tspan></text>
<text transform="translate(270.83 288.86) scale(1.0600 1.0000)" font-size="9.20" fill="#000"><tspan>0.8</tspan></text>
<text transform="translate(270.88 275.24) scale(1.0600 1.0000)" font-size="9.20" fill="#000"><tspan>1.0</tspan></text>
<text transform="translate(270.93 261.63) scale(1.0600 1.0000)" font-size="9.20" fill="#000"><tspan>1.2</tspan></text>
<text transform="translate(270.69 248.02) scale(1.0600 1.0000)" font-size="9.20" fill="#000"><tspan>1.4</tspan></text>
<text transform="translate(270.80 234.41) scale(1.0600 1.0000)" font-size="9.20" fill="#000"><tspan>1.6</tspan></text>
<text transform="translate(270.83 220.80) scale(1.0600 1.0000)" font-size="9.20" fill="#000"><tspan>1.8</tspan></text>
<line x1="529.80" y1="346.40" x2="529.80" y2="348.10" stroke="#000" stroke-width="1.00" stroke-linecap="butt"/>
<line x1="529.80" y1="208.90" x2="529.80" y2="210.60" stroke="#000" stroke-width="1.00" stroke-linecap="butt"/>
<line x1="541.56" y1="346.40" x2="541.56" y2="348.10" stroke="#000" stroke-width="1.00" stroke-linecap="butt"/>
<line x1="541.56" y1="208.90" x2="541.56" y2="210.60" stroke="#000" stroke-width="1.00" stroke-linecap="butt"/>
<line x1="553.31" y1="346.40" x2="553.31" y2="348.10" stroke="#000" stroke-width="1.00" stroke-linecap="butt"/>
<line x1="553.31" y1="208.90" x2="553.31" y2="210.60" stroke="#000" stroke-width="1.00" stroke-linecap="butt"/>
<line x1="565.07" y1="346.40" x2="565.07" y2="348.10" stroke="#000" stroke-width="1.00" stroke-linecap="butt"/>
<line x1="565.07" y1="208.90" x2="565.07" y2="210.60" stroke="#000" stroke-width="1.00" stroke-linecap="butt"/>
<line x1="576.82" y1="346.40" x2="576.82" y2="348.10" stroke="#000" stroke-width="1.00" stroke-linecap="butt"/>
<line x1="576.82" y1="208.90" x2="576.82" y2="210.60" stroke="#000" stroke-width="1.00" stroke-linecap="butt"/>
<line x1="588.58" y1="346.40" x2="588.58" y2="348.10" stroke="#000" stroke-width="1.00" stroke-linecap="butt"/>
<line x1="588.58" y1="208.90" x2="588.58" y2="210.60" stroke="#000" stroke-width="1.00" stroke-linecap="butt"/>
<line x1="600.34" y1="346.40" x2="600.34" y2="348.10" stroke="#000" stroke-width="1.00" stroke-linecap="butt"/>
<line x1="600.34" y1="208.90" x2="600.34" y2="210.60" stroke="#000" stroke-width="1.00" stroke-linecap="butt"/>
<line x1="612.09" y1="346.40" x2="612.09" y2="348.10" stroke="#000" stroke-width="1.00" stroke-linecap="butt"/>
<line x1="612.09" y1="208.90" x2="612.09" y2="210.60" stroke="#000" stroke-width="1.00" stroke-linecap="butt"/>
<line x1="623.85" y1="346.40" x2="623.85" y2="348.10" stroke="#000" stroke-width="1.00" stroke-linecap="butt"/>
<line x1="623.85" y1="208.90" x2="623.85" y2="210.60" stroke="#000" stroke-width="1.00" stroke-linecap="butt"/>
<line x1="635.61" y1="346.40" x2="635.61" y2="348.10" stroke="#000" stroke-width="1.00" stroke-linecap="butt"/>
<line x1="635.61" y1="208.90" x2="635.61" y2="210.60" stroke="#000" stroke-width="1.00" stroke-linecap="butt"/>
<line x1="647.36" y1="346.40" x2="647.36" y2="348.10" stroke="#000" stroke-width="1.00" stroke-linecap="butt"/>
<line x1="647.36" y1="208.90" x2="647.36" y2="210.60" stroke="#000" stroke-width="1.00" stroke-linecap="butt"/>
<line x1="659.12" y1="346.40" x2="659.12" y2="348.10" stroke="#000" stroke-width="1.00" stroke-linecap="butt"/>
<line x1="659.12" y1="208.90" x2="659.12" y2="210.60" stroke="#000" stroke-width="1.00" stroke-linecap="butt"/>
<line x1="670.88" y1="346.40" x2="670.88" y2="348.10" stroke="#000" stroke-width="1.00" stroke-linecap="butt"/>
<line x1="670.88" y1="208.90" x2="670.88" y2="210.60" stroke="#000" stroke-width="1.00" stroke-linecap="butt"/>
<line x1="682.63" y1="346.40" x2="682.63" y2="348.10" stroke="#000" stroke-width="1.00" stroke-linecap="butt"/>
<line x1="682.63" y1="208.90" x2="682.63" y2="210.60" stroke="#000" stroke-width="1.00" stroke-linecap="butt"/>
<line x1="694.39" y1="346.40" x2="694.39" y2="348.10" stroke="#000" stroke-width="1.00" stroke-linecap="butt"/>
<line x1="694.39" y1="208.90" x2="694.39" y2="210.60" stroke="#000" stroke-width="1.00" stroke-linecap="butt"/>
<line x1="706.14" y1="346.40" x2="706.14" y2="348.10" stroke="#000" stroke-width="1.00" stroke-linecap="butt"/>
<line x1="706.14" y1="208.90" x2="706.14" y2="210.60" stroke="#000" stroke-width="1.00" stroke-linecap="butt"/>
<line x1="717.90" y1="346.40" x2="717.90" y2="348.10" stroke="#000" stroke-width="1.00" stroke-linecap="butt"/>
<line x1="717.90" y1="208.90" x2="717.90" y2="210.60" stroke="#000" stroke-width="1.00" stroke-linecap="butt"/>
<line x1="529.80" y1="346.40" x2="529.80" y2="349.40" stroke="#000" stroke-width="1.00" stroke-linecap="butt"/>
<line x1="529.80" y1="208.90" x2="529.80" y2="211.90" stroke="#000" stroke-width="1.00" stroke-linecap="butt"/>
<line x1="553.31" y1="346.40" x2="553.31" y2="349.40" stroke="#000" stroke-width="1.00" stroke-linecap="butt"/>
<line x1="553.31" y1="208.90" x2="553.31" y2="211.90" stroke="#000" stroke-width="1.00" stroke-linecap="butt"/>
<line x1="576.82" y1="346.40" x2="576.82" y2="349.40" stroke="#000" stroke-width="1.00" stroke-linecap="butt"/>
<line x1="576.82" y1="208.90" x2="576.82" y2="211.90" stroke="#000" stroke-width="1.00" stroke-linecap="butt"/>
<line x1="600.34" y1="346.40" x2="600.34" y2="349.40" stroke="#000" stroke-width="1.00" stroke-linecap="butt"/>
<line x1="600.34" y1="208.90" x2="600.34" y2="211.90" stroke="#000" stroke-width="1.00" stroke-linecap="butt"/>
<line x1="623.85" y1="346.40" x2="623.85" y2="349.40" stroke="#000" stroke-width="1.00" stroke-linecap="butt"/>
<line x1="623.85" y1="208.90" x2="623.85" y2="211.90" stroke="#000" stroke-width="1.00" stroke-linecap="butt"/>
<line x1="647.36" y1="346.40" x2="647.36" y2="349.40" stroke="#000" stroke-width="1.00" stroke-linecap="butt"/>
<line x1="647.36" y1="208.90" x2="647.36" y2="211.90" stroke="#000" stroke-width="1.00" stroke-linecap="butt"/>
<line x1="670.88" y1="346.40" x2="670.88" y2="349.40" stroke="#000" stroke-width="1.00" stroke-linecap="butt"/>
<line x1="670.88" y1="208.90" x2="670.88" y2="211.90" stroke="#000" stroke-width="1.00" stroke-linecap="butt"/>
<line x1="694.39" y1="346.40" x2="694.39" y2="349.40" stroke="#000" stroke-width="1.00" stroke-linecap="butt"/>
<line x1="694.39" y1="208.90" x2="694.39" y2="211.90" stroke="#000" stroke-width="1.00" stroke-linecap="butt"/>
<line x1="717.90" y1="346.40" x2="717.90" y2="349.40" stroke="#000" stroke-width="1.00" stroke-linecap="butt"/>
<line x1="717.90" y1="208.90" x2="717.90" y2="211.90" stroke="#000" stroke-width="1.00" stroke-linecap="butt"/>
<line x1="528.10" y1="346.20" x2="529.80" y2="346.20" stroke="#000" stroke-width="1.00" stroke-linecap="butt"/>
<line x1="716.30" y1="346.20" x2="718.00" y2="346.20" stroke="#000" stroke-width="1.00" stroke-linecap="butt"/>
<line x1="528.10" y1="335.64" x2="529.80" y2="335.64" stroke="#000" stroke-width="1.00" stroke-linecap="butt"/>
<line x1="716.30" y1="335.64" x2="718.00" y2="335.64" stroke="#000" stroke-width="1.00" stroke-linecap="butt"/>
<line x1="528.10" y1="325.08" x2="529.80" y2="325.08" stroke="#000" stroke-width="1.00" stroke-linecap="butt"/>
<line x1="716.30" y1="325.08" x2="718.00" y2="325.08" stroke="#000" stroke-width="1.00" stroke-linecap="butt"/>
<line x1="528.10" y1="314.52" x2="529.80" y2="314.52" stroke="#000" stroke-width="1.00" stroke-linecap="butt"/>
<line x1="716.30" y1="314.52" x2="718.00" y2="314.52" stroke="#000" stroke-width="1.00" stroke-linecap="butt"/>
<line x1="528.10" y1="303.97" x2="529.80" y2="303.97" stroke="#000" stroke-width="1.00" stroke-linecap="butt"/>
<line x1="716.30" y1="303.97" x2="718.00" y2="303.97" stroke="#000" stroke-width="1.00" stroke-linecap="butt"/>
<line x1="528.10" y1="293.41" x2="529.80" y2="293.41" stroke="#000" stroke-width="1.00" stroke-linecap="butt"/>
<line x1="716.30" y1="293.41" x2="718.00" y2="293.41" stroke="#000" stroke-width="1.00" stroke-linecap="butt"/>
<line x1="528.10" y1="282.85" x2="529.80" y2="282.85" stroke="#000" stroke-width="1.00" stroke-linecap="butt"/>
<line x1="716.30" y1="282.85" x2="718.00" y2="282.85" stroke="#000" stroke-width="1.00" stroke-linecap="butt"/>
<line x1="528.10" y1="272.29" x2="529.80" y2="272.29" stroke="#000" stroke-width="1.00" stroke-linecap="butt"/>
<line x1="716.30" y1="272.29" x2="718.00" y2="272.29" stroke="#000" stroke-width="1.00" stroke-linecap="butt"/>
<line x1="528.10" y1="261.73" x2="529.80" y2="261.73" stroke="#000" stroke-width="1.00" stroke-linecap="butt"/>
<line x1="716.30" y1="261.73" x2="718.00" y2="261.73" stroke="#000" stroke-width="1.00" stroke-linecap="butt"/>
<line x1="528.10" y1="251.18" x2="529.80" y2="251.18" stroke="#000" stroke-width="1.00" stroke-linecap="butt"/>
<line x1="716.30" y1="251.18" x2="718.00" y2="251.18" stroke="#000" stroke-width="1.00" stroke-linecap="butt"/>
<line x1="528.10" y1="240.62" x2="529.80" y2="240.62" stroke="#000" stroke-width="1.00" stroke-linecap="butt"/>
<line x1="716.30" y1="240.62" x2="718.00" y2="240.62" stroke="#000" stroke-width="1.00" stroke-linecap="butt"/>
<line x1="528.10" y1="230.06" x2="529.80" y2="230.06" stroke="#000" stroke-width="1.00" stroke-linecap="butt"/>
<line x1="716.30" y1="230.06" x2="718.00" y2="230.06" stroke="#000" stroke-width="1.00" stroke-linecap="butt"/>
<line x1="528.10" y1="219.50" x2="529.80" y2="219.50" stroke="#000" stroke-width="1.00" stroke-linecap="butt"/>
<line x1="716.30" y1="219.50" x2="718.00" y2="219.50" stroke="#000" stroke-width="1.00" stroke-linecap="butt"/>
<line x1="528.10" y1="208.94" x2="529.80" y2="208.94" stroke="#000" stroke-width="1.00" stroke-linecap="butt"/>
<line x1="716.30" y1="208.94" x2="718.00" y2="208.94" stroke="#000" stroke-width="1.00" stroke-linecap="butt"/>
<line x1="526.80" y1="346.20" x2="529.80" y2="346.20" stroke="#000" stroke-width="1.00" stroke-linecap="butt"/>
<line x1="715.00" y1="346.20" x2="718.00" y2="346.20" stroke="#000" stroke-width="1.00" stroke-linecap="butt"/>
<line x1="526.80" y1="325.08" x2="529.80" y2="325.08" stroke="#000" stroke-width="1.00" stroke-linecap="butt"/>
<line x1="715.00" y1="325.08" x2="718.00" y2="325.08" stroke="#000" stroke-width="1.00" stroke-linecap="butt"/>
<line x1="526.80" y1="303.97" x2="529.80" y2="303.97" stroke="#000" stroke-width="1.00" stroke-linecap="butt"/>
<line x1="715.00" y1="303.97" x2="718.00" y2="303.97" stroke="#000" stroke-width="1.00" stroke-linecap="butt"/>
<line x1="526.80" y1="282.85" x2="529.80" y2="282.85" stroke="#000" stroke-width="1.00" stroke-linecap="butt"/>
<line x1="715.00" y1="282.85" x2="718.00" y2="282.85" stroke="#000" stroke-width="1.00" stroke-linecap="butt"/>
<line x1="526.80" y1="261.73" x2="529.80" y2="261.73" stroke="#000" stroke-width="1.00" stroke-linecap="butt"/>
<line x1="715.00" y1="261.73" x2="718.00" y2="261.73" stroke="#000" stroke-width="1.00" stroke-linecap="butt"/>
<line x1="526.80" y1="240.62" x2="529.80" y2="240.62" stroke="#000" stroke-width="1.00" stroke-linecap="butt"/>
<line x1="715.00" y1="240.62" x2="718.00" y2="240.62" stroke="#000" stroke-width="1.00" stroke-linecap="butt"/>
<line x1="526.80" y1="219.50" x2="529.80" y2="219.50" stroke="#000" stroke-width="1.00" stroke-linecap="butt"/>
<line x1="715.00" y1="219.50" x2="718.00" y2="219.50" stroke="#000" stroke-width="1.00" stroke-linecap="butt"/>
<rect x="529.80" y="208.90" width="188.20" height="137.50" fill="none" stroke="#1a1a1a" stroke-width="1.50"/>
<text transform="translate(523.50 358.40) scale(1.0600 1.0000)" font-size="9.20" fill="#000"><tspan>1.0</tspan></text>
<text transform="translate(547.08 358.40) scale(1.0600 1.0000)" font-size="9.20" fill="#000"><tspan>1.1</tspan></text>
<text transform="translate(570.55 358.40) scale(1.0600 1.0000)" font-size="9.20" fill="#000"><tspan>1.2</tspan></text>
<text transform="translate(594.02 358.40) scale(1.0600 1.0000)" font-size="9.20" fill="#000"><tspan>1.3</tspan></text>
<text transform="translate(617.46 358.40) scale(1.0600 1.0000)" font-size="9.20" fill="#000"><tspan>1.4</tspan></text>
<text transform="translate(641.06 358.40) scale(1.0600 1.0000)" font-size="9.20" fill="#000"><tspan>1.5</tspan></text>
<text transform="translate(664.53 358.40) scale(1.0600 1.0000)" font-size="9.20" fill="#000"><tspan>1.6</tspan></text>
<text transform="translate(688.02 358.40) scale(1.0600 1.0000)" font-size="9.20" fill="#000"><tspan>1.7</tspan></text>
<text transform="translate(711.58 358.40) scale(1.0600 1.0000)" font-size="9.20" fill="#000"><tspan>1.8</tspan></text>
<text transform="translate(510.54 349.20) scale(1.0600 1.0000)" font-size="9.20" fill="#000"><tspan>200</tspan></text>
<text transform="translate(510.54 328.08) scale(1.0600 1.0000)" font-size="9.20" fill="#000"><tspan>300</tspan></text>
<text transform="translate(510.54 306.97) scale(1.0600 1.0000)" font-size="9.20" fill="#000"><tspan>400</tspan></text>
<text transform="translate(510.54 285.85) scale(1.0600 1.0000)" font-size="9.20" fill="#000"><tspan>500</tspan></text>
<text transform="translate(510.54 264.73) scale(1.0600 1.0000)" font-size="9.20" fill="#000"><tspan>600</tspan></text>
<text transform="translate(510.54 243.62) scale(1.0600 1.0000)" font-size="9.20" fill="#000"><tspan>700</tspan></text>
<text transform="translate(510.54 222.50) scale(1.0600 1.0000)" font-size="9.20" fill="#000"><tspan>800</tspan></text>
<text transform="translate(72.20 190.90) scale(0.9771 1.0000)" font-size="12.20" fill="#000"><tspan>Potential (V vs. Ag/AgCl)</tspan></text>
<text transform="translate(350.56 190.70) scale(0.9884 1.0000)" font-size="12.20" fill="#000"><tspan>Voltage (V)</tspan></text>
<text transform="translate(606.71 190.40) scale(0.9787 1.0000)" font-size="12.20" fill="#000"><tspan>Time (s)</tspan></text>
<text transform="translate(107.06 375.10) scale(0.9934 1.0000)" font-size="12.20" fill="#000"><tspan>Voltage (V)</tspan></text>
<text transform="translate(361.22 374.80) scale(0.9692 1.0000)" font-size="12.20" fill="#000"><tspan>Time (s)</tspan></text>
<text transform="translate(594.77 374.80) scale(0.9816 1.0000)" font-size="12.20" fill="#000"><tspan>Voltage (V)</tspan></text>
<text transform="translate(14.20 162.99) rotate(-90) scale(0.9915 1.0300)" font-size="12.20" fill="#000"><tspan>Current density (mA cm</tspan><tspan font-size="7.56" dy="-5.12">-2</tspan><tspan dy="5.12">)</tspan></text>
<text transform="translate(257.10 162.09) rotate(-90) scale(0.9922 1.0300)" font-size="12.20" fill="#000"><tspan>Current density (mA cm</tspan><tspan font-size="7.56" dy="-5.12">-2</tspan><tspan dy="5.12">)</tspan></text>
<text transform="translate(15.80 357.09) rotate(-90) scale(0.9922 1.0300)" font-size="12.20" fill="#000"><tspan>Current density (mA cm</tspan><tspan font-size="7.56" dy="-5.12">-2</tspan><tspan dy="5.12">)</tspan></text>
<text transform="translate(498.30 128.04) rotate(-90) scale(0.9900 1.0300)" font-size="12.20" fill="#000"><tspan>Voltage (V)</tspan></text>
<text transform="translate(260.40 312.04) rotate(-90) scale(0.9917 1.0300)" font-size="12.20" fill="#000"><tspan>Voltage (V)</tspan></text>
<text transform="translate(503.40 360.62) rotate(-90) scale(0.9916 1.0300)" font-size="12.20" fill="#000"><tspan>Areal Capacitance (mF/cm</tspan><tspan font-size="7.56" dy="-4.39">2</tspan><tspan dy="4.39">)</tspan></text>
<path d="M117.50,95.80 C118.08,95.67 119.75,95.20 121.00,95.00 C122.25,94.80 121.83,94.68 125.00,94.60 C128.17,94.52 130.83,94.53 140.00,94.50 C149.17,94.47 166.70,94.43 180.00,94.40 C193.30,94.37 213.17,94.32 219.80,94.30" fill="none" stroke="#000000" stroke-width="1.70" stroke-linejoin="round" stroke-linecap="round"/>
<path d="M81.90,115.50 C81.90,111.58 81.88,96.53 81.90,92.00 C81.92,87.47 81.88,89.43 82.00,88.30 C82.12,87.17 82.27,86.08 82.60,85.20 C82.93,84.32 83.47,83.58 84.00,83.00 C84.53,82.42 85.08,82.05 85.80,81.70 C86.52,81.35 87.10,81.10 88.30,80.90 C89.50,80.70 91.42,80.60 93.00,80.50 C94.58,80.40 93.30,80.33 97.80,80.30 C102.30,80.27 112.97,80.25 120.00,80.30 C127.03,80.35 134.25,80.52 140.00,80.60 C145.75,80.68 152.08,80.77 154.50,80.80 L154.50,80.80 L153.80,105.00 L153.80,105.00 C153.17,105.10 152.30,105.35 150.00,105.60 C147.70,105.85 143.33,106.17 140.00,106.50 C136.67,106.83 133.30,107.30 130.00,107.60 C126.70,107.90 123.53,108.00 120.20,108.30 C116.87,108.60 113.18,109.07 110.00,109.40 C106.82,109.73 103.77,109.98 101.10,110.30 C98.43,110.62 96.22,110.92 94.00,111.30 C91.78,111.68 89.38,112.15 87.80,112.60 C86.22,113.05 85.48,113.52 84.50,114.00 C83.52,114.48 82.33,115.25 81.90,115.50" fill="none" stroke="#0000ff" stroke-width="1.70" stroke-linejoin="round" stroke-linecap="round"/>
<path d="M156.00,107.80 C156.02,104.10 155.85,89.57 156.10,85.60 C156.35,81.63 156.85,84.40 157.50,84.00 C158.15,83.60 158.75,83.43 160.00,83.20 C161.25,82.97 163.33,82.73 165.00,82.60 C166.67,82.47 166.67,82.42 170.00,82.40 C173.33,82.38 181.67,82.48 185.00,82.50 C188.33,82.52 188.17,82.58 190.00,82.50 C191.83,82.42 193.88,82.18 196.00,82.00 C198.12,81.82 200.95,81.63 202.70,81.40 C204.45,81.17 205.43,80.95 206.50,80.60 C207.57,80.25 208.27,79.77 209.10,79.30 C209.93,78.83 210.78,78.33 211.50,77.80 C212.22,77.27 212.82,76.65 213.40,76.10 C213.98,75.55 214.48,75.03 215.00,74.50 C215.52,73.97 215.88,73.70 216.50,72.90 C217.12,72.10 218.33,70.23 218.70,69.70 L219.40,69.70 C219.42,73.42 219.52,87.75 219.50,92.00 C219.48,96.25 219.55,93.78 219.30,95.20 C219.05,96.62 218.42,99.20 218.00,100.50 C217.58,101.80 217.22,102.28 216.80,103.00 C216.38,103.72 216.05,104.28 215.50,104.80 C214.95,105.32 214.22,105.75 213.50,106.10 C212.78,106.45 213.45,106.70 211.20,106.90 C208.95,107.10 203.53,107.20 200.00,107.30 C196.47,107.40 193.33,107.45 190.00,107.50 C186.67,107.55 184.17,107.58 180.00,107.60 C175.83,107.62 168.33,107.58 165.00,107.60 C161.67,107.62 161.50,107.67 160.00,107.70 C158.50,107.73 156.67,107.78 156.00,107.80" fill="none" stroke="#0000ff" stroke-width="1.70" stroke-linejoin="round" stroke-linecap="round"/>
<path d="M53.50,155.70 C53.53,153.08 53.60,145.62 53.70,140.00 C53.80,134.38 53.88,127.67 54.10,122.00 C54.32,116.33 54.62,110.17 55.00,106.00 C55.38,101.83 55.85,99.67 56.40,97.00 C56.95,94.33 57.43,92.12 58.30,90.00 C59.17,87.88 60.32,86.08 61.60,84.30 C62.88,82.52 64.33,80.58 66.00,79.30 C67.67,78.02 69.77,77.35 71.60,76.60 C73.43,75.85 75.17,75.37 77.00,74.80 C78.83,74.23 80.75,73.73 82.60,73.20 C84.45,72.67 86.27,72.18 88.10,71.60 C89.93,71.02 91.75,70.20 93.60,69.70 C95.45,69.20 97.30,68.80 99.20,68.60 C101.10,68.40 103.17,68.47 105.00,68.50 C106.83,68.53 108.42,68.60 110.20,68.80 C111.98,69.00 113.87,69.47 115.70,69.70 C117.53,69.93 119.37,70.17 121.20,70.20 C123.03,70.23 124.85,70.07 126.70,69.90 C128.55,69.73 130.58,69.58 132.30,69.20 C134.02,68.82 135.43,68.15 137.00,67.60 C138.57,67.05 139.87,66.53 141.70,65.90 C143.53,65.27 145.73,64.47 148.00,63.80 C150.27,63.13 154.08,62.22 155.30,61.90 L155.30,61.90 L154.40,111.50 L154.40,111.50 C154.10,112.25 153.55,114.70 152.60,116.00 C151.65,117.30 150.22,118.50 148.70,119.30 C147.18,120.10 144.98,120.58 143.50,120.80 C142.02,121.02 141.75,120.83 139.80,120.60 C137.85,120.37 134.43,119.90 131.80,119.40 C129.17,118.90 126.30,117.87 124.00,117.60 C121.70,117.33 120.22,117.60 118.00,117.80 C115.78,118.00 113.70,118.33 110.70,118.80 C107.70,119.27 102.87,120.17 100.00,120.60 C97.13,121.03 95.83,121.20 93.50,121.40 C91.17,121.60 88.25,121.50 86.00,121.80 C83.75,122.10 82.23,122.20 80.00,123.20 C77.77,124.20 74.77,126.25 72.60,127.80 C70.43,129.35 68.60,130.80 67.00,132.50 C65.40,134.20 64.17,136.33 63.00,138.00 C61.83,139.67 60.90,140.97 60.00,142.50 C59.10,144.03 58.40,145.53 57.60,147.20 C56.80,148.87 55.88,151.08 55.20,152.50 C54.52,153.92 53.78,155.17 53.50,155.70" fill="none" stroke="#ff0000" stroke-width="1.70" stroke-linejoin="round" stroke-linecap="round"/>
<path d="M156.00,76.00 C156.07,75.43 155.97,73.67 156.40,72.60 C156.83,71.53 157.17,70.25 158.60,69.60 C160.03,68.95 161.80,68.87 165.00,68.70 C168.20,68.53 174.47,68.38 177.80,68.60 C181.13,68.82 182.97,69.53 185.00,70.00 C187.03,70.47 188.33,71.03 190.00,71.40 C191.67,71.77 193.23,72.05 195.00,72.20 C196.77,72.35 199.10,72.33 200.60,72.30 C202.10,72.27 202.93,72.15 204.00,72.00 C205.07,71.85 206.08,71.62 207.00,71.40 C207.92,71.18 208.80,70.98 209.50,70.70 C210.20,70.42 210.62,70.10 211.20,69.70 C211.78,69.30 212.47,68.83 213.00,68.30 C213.53,67.77 213.82,67.32 214.40,66.50 C214.98,65.68 215.87,64.63 216.50,63.40 C217.13,62.17 217.73,60.52 218.20,59.10 C218.67,57.68 219.00,56.32 219.30,54.90 C219.60,53.48 219.88,51.32 220.00,50.60 L220.20,50.60 C220.20,57.50 220.28,84.43 220.20,92.00 C220.12,99.57 219.95,94.40 219.70,96.00 C219.45,97.60 219.10,100.07 218.70,101.60 C218.30,103.13 217.83,104.15 217.30,105.20 C216.77,106.25 216.13,107.13 215.50,107.90 C214.87,108.67 214.22,109.27 213.50,109.80 C212.78,110.33 212.28,110.70 211.20,111.10 C210.12,111.50 208.42,111.85 207.00,112.20 C205.58,112.55 204.53,112.80 202.70,113.20 C200.87,113.60 198.12,114.07 196.00,114.60 C193.88,115.13 192.50,115.78 190.00,116.40 C187.50,117.02 184.00,117.60 181.00,118.30 C178.00,119.00 174.67,119.82 172.00,120.60 C169.33,121.38 166.73,122.33 165.00,123.00 C163.27,123.67 163.23,124.03 161.60,124.60 C159.97,125.17 156.27,126.10 155.20,126.40 Z" fill="none" stroke="#ff0000" stroke-width="1.70" stroke-linejoin="round" stroke-linecap="round"/>
<line x1="134.50" y1="135.40" x2="153.00" y2="135.40" stroke="#000000" stroke-width="1.60" stroke-linecap="butt"/>
<line x1="134.50" y1="145.20" x2="153.00" y2="145.20" stroke="#0000ff" stroke-width="1.60" stroke-linecap="butt"/>
<line x1="134.50" y1="155.00" x2="153.00" y2="155.00" stroke="#ff0000" stroke-width="1.60" stroke-linecap="butt"/>
<text transform="translate(154.41 138.30) scale(0.9300 1.0000)" font-size="8.60" fill="#000"><tspan>CC</tspan></text>
<text transform="translate(154.50 148.10) scale(0.9218 1.0000)" font-size="8.60" fill="#000"><tspan>3D-CNTs/CC</tspan></text>
<text transform="translate(154.50 157.90) scale(0.9318 1.0000)" font-size="8.60" fill="#000"><tspan>3D-PANI/CNTs/CC</tspan></text>
<text transform="translate(53.67 53.20) scale(0.9870 1.0000)" font-size="11.80" fill="#000"><tspan>1 mV/s</tspan></text>
<path d="M299.30,142.90 C299.31,142.57 299.30,146.38 299.35,140.90 C299.40,135.42 299.49,119.32 299.60,110.00 C299.71,100.68 299.93,90.75 300.00,85.00 C300.07,79.25 299.95,77.58 300.00,75.50 C300.05,73.42 300.10,73.37 300.30,72.50 C300.50,71.63 300.75,70.90 301.20,70.30 C301.65,69.70 302.20,69.20 303.00,68.90 C303.80,68.60 304.00,68.55 306.00,68.50 C308.00,68.45 311.00,68.52 315.00,68.60 C319.00,68.68 325.00,68.87 330.00,69.00 C335.00,69.13 340.00,69.28 345.00,69.40 C350.00,69.52 355.50,69.67 360.00,69.70 C364.50,69.73 368.33,69.72 372.00,69.60 C375.67,69.48 378.67,69.27 382.00,69.00 C385.33,68.73 389.00,68.33 392.00,68.00 C395.00,67.67 397.52,67.33 400.00,67.00 C402.48,66.67 405.75,66.17 406.90,66.00 L406.90,66.00 L406.90,72.00 L406.90,72.00 C406.85,78.33 406.72,101.95 406.60,110.00 C406.48,118.05 406.42,117.20 406.20,120.30 C405.98,123.40 405.62,126.52 405.30,128.60 C404.98,130.68 404.82,131.63 404.30,132.80 C403.78,133.97 403.07,134.92 402.20,135.60 C401.33,136.28 400.30,136.60 399.10,136.90 C397.90,137.20 397.18,137.27 395.00,137.40 C392.82,137.53 389.00,137.60 386.00,137.70 C383.00,137.80 383.00,137.68 377.00,138.00 C371.00,138.32 359.50,139.02 350.00,139.60 C340.50,140.18 328.45,140.95 320.00,141.50 C311.55,142.05 302.75,142.67 299.30,142.90" fill="none" stroke="#000000" stroke-width="1.70" stroke-linejoin="round" stroke-linecap="round"/>
<path d="M299.00,143.60 C299.01,143.27 299.00,147.20 299.05,141.60 C299.10,136.00 299.19,119.43 299.30,110.00 C299.41,100.57 299.58,90.75 299.70,85.00 C299.82,79.25 299.90,77.58 300.00,75.50 C300.10,73.42 300.10,73.37 300.30,72.50 C300.50,71.63 300.75,70.90 301.20,70.30 C301.65,69.70 302.20,69.20 303.00,68.90 C303.80,68.60 304.00,68.55 306.00,68.50 C308.00,68.45 311.00,68.52 315.00,68.60 C319.00,68.68 325.00,68.87 330.00,69.00 C335.00,69.13 340.00,69.28 345.00,69.40 C350.00,69.52 355.50,69.67 360.00,69.70 C364.50,69.73 368.33,69.72 372.00,69.60 C375.67,69.48 378.67,69.27 382.00,69.00 C385.33,68.73 389.00,68.33 392.00,68.00 C395.00,67.67 397.52,67.33 400.00,67.00 C402.48,66.67 403.90,66.55 406.90,66.00 C409.90,65.45 414.32,64.50 418.00,63.70 C421.68,62.90 427.17,61.62 429.00,61.20 L429.00,61.20 L428.80,68.00 L428.80,68.00 C428.72,75.00 428.45,101.28 428.30,110.00 C428.15,118.72 428.10,117.37 427.90,120.30 C427.70,123.23 427.42,125.62 427.10,127.60 C426.78,129.58 426.52,131.00 426.00,132.20 C425.48,133.40 425.03,133.98 424.00,134.80 C422.97,135.62 421.53,136.55 419.80,137.10 C418.07,137.65 416.02,137.87 413.60,138.10 C411.18,138.33 408.40,138.35 405.30,138.50 C402.20,138.65 399.72,138.83 395.00,139.00 C390.28,139.17 384.50,139.25 377.00,139.50 C369.50,139.75 359.50,140.05 350.00,140.50 C340.50,140.95 328.50,141.68 320.00,142.20 C311.50,142.72 302.50,143.37 299.00,143.60" fill="none" stroke="#ff0000" stroke-width="1.70" stroke-linejoin="round" stroke-linecap="round"/>
<path d="M298.70,144.60 C298.71,144.27 298.70,148.37 298.75,142.60 C298.80,136.83 298.89,119.60 299.00,110.00 C299.11,100.40 299.23,90.75 299.40,85.00 C299.57,79.25 299.85,77.58 300.00,75.50 C300.15,73.42 300.10,73.37 300.30,72.50 C300.50,71.63 300.75,70.90 301.20,70.30 C301.65,69.70 302.20,69.20 303.00,68.90 C303.80,68.60 304.00,68.55 306.00,68.50 C308.00,68.45 311.00,68.52 315.00,68.60 C319.00,68.68 325.00,68.87 330.00,69.00 C335.00,69.13 340.00,69.28 345.00,69.40 C350.00,69.52 355.50,69.67 360.00,69.70 C364.50,69.73 368.33,69.72 372.00,69.60 C375.67,69.48 378.67,69.27 382.00,69.00 C385.33,68.73 389.00,68.33 392.00,68.00 C395.00,67.67 397.52,67.33 400.00,67.00 C402.48,66.67 403.90,66.55 406.90,66.00 C409.90,65.45 414.32,64.50 418.00,63.70 C421.68,62.90 425.33,62.05 429.00,61.20 C432.67,60.35 436.38,59.48 440.00,58.60 C443.62,57.72 448.92,56.35 450.70,55.90 L450.70,55.90 L450.50,62.00 L450.50,62.00 C450.35,70.00 449.83,100.28 449.60,110.00 C449.37,119.72 449.32,117.37 449.10,120.30 C448.88,123.23 448.70,125.62 448.30,127.60 C447.90,129.58 447.48,130.82 446.70,132.20 C445.92,133.58 444.98,134.87 443.60,135.90 C442.22,136.93 440.47,137.77 438.40,138.40 C436.33,139.03 434.98,139.40 431.20,139.70 C427.42,140.00 421.73,140.03 415.70,140.20 C409.67,140.37 401.45,140.53 395.00,140.70 C388.55,140.87 384.50,140.95 377.00,141.20 C369.50,141.45 359.50,141.80 350.00,142.20 C340.50,142.60 328.55,143.20 320.00,143.60 C311.45,144.00 302.25,144.43 298.70,144.60" fill="none" stroke="#0000ff" stroke-width="1.70" stroke-linejoin="round" stroke-linecap="round"/>
<path d="M298.40,145.60 C298.41,145.27 298.40,149.53 298.45,143.60 C298.50,137.67 298.59,119.77 298.70,110.00 C298.81,100.23 298.88,90.75 299.10,85.00 C299.32,79.25 299.80,77.58 300.00,75.50 C300.20,73.42 300.10,73.37 300.30,72.50 C300.50,71.63 300.75,70.90 301.20,70.30 C301.65,69.70 302.20,69.20 303.00,68.90 C303.80,68.60 304.00,68.55 306.00,68.50 C308.00,68.45 311.00,68.52 315.00,68.60 C319.00,68.68 325.00,68.87 330.00,69.00 C335.00,69.13 340.00,69.28 345.00,69.40 C350.00,69.52 355.50,69.67 360.00,69.70 C364.50,69.73 368.33,69.72 372.00,69.60 C375.67,69.48 378.67,69.27 382.00,69.00 C385.33,68.73 389.00,68.33 392.00,68.00 C395.00,67.67 397.52,67.33 400.00,67.00 C402.48,66.67 403.90,66.55 406.90,66.00 C409.90,65.45 414.32,64.50 418.00,63.70 C421.68,62.90 425.33,62.05 429.00,61.20 C432.67,60.35 436.38,59.48 440.00,58.60 C443.62,57.72 448.03,56.62 450.70,55.90 C453.37,55.18 454.22,54.90 456.00,54.30 C457.78,53.70 460.50,52.63 461.40,52.30 L461.40,52.30 L461.30,58.00 L461.30,58.00 C461.15,66.67 460.63,99.62 460.40,110.00 C460.17,120.38 460.12,117.37 459.90,120.30 C459.68,123.23 459.48,125.62 459.10,127.60 C458.72,129.58 458.28,130.92 457.60,132.20 C456.92,133.48 456.13,134.38 455.00,135.30 C453.87,136.22 452.70,136.95 450.80,137.70 C448.90,138.45 446.00,139.32 443.60,139.80 C441.20,140.28 441.05,140.37 436.40,140.60 C431.75,140.83 422.60,141.02 415.70,141.20 C408.80,141.38 401.45,141.53 395.00,141.70 C388.55,141.87 384.50,141.97 377.00,142.20 C369.50,142.43 359.50,142.73 350.00,143.10 C340.50,143.47 328.60,143.98 320.00,144.40 C311.40,144.82 302.00,145.40 298.40,145.60" fill="none" stroke="#ff00ff" stroke-width="1.70" stroke-linejoin="round" stroke-linecap="round"/>
<line x1="307.60" y1="89.50" x2="326.00" y2="89.50" stroke="#000000" stroke-width="1.60" stroke-linecap="butt"/>
<text transform="translate(327.96 92.40) scale(0.9494 1.0000)" font-size="8.40" fill="#000"><tspan>1.0V</tspan></text>
<line x1="307.60" y1="99.53" x2="326.00" y2="99.53" stroke="#ff0000" stroke-width="1.60" stroke-linecap="butt"/>
<text transform="translate(327.96 102.43) scale(0.9494 1.0000)" font-size="8.40" fill="#000"><tspan>1.2V</tspan></text>
<line x1="307.60" y1="109.56" x2="326.00" y2="109.56" stroke="#0000ff" stroke-width="1.60" stroke-linecap="butt"/>
<text transform="translate(327.96 112.46) scale(0.9494 1.0000)" font-size="8.40" fill="#000"><tspan>1.4V</tspan></text>
<line x1="307.60" y1="119.59" x2="326.00" y2="119.59" stroke="#ff00ff" stroke-width="1.60" stroke-linecap="butt"/>
<text transform="translate(327.96 122.49) scale(0.9494 1.0000)" font-size="8.40" fill="#000"><tspan>1.5V</tspan></text>
<text transform="translate(338.42 154.90) scale(1.0808 1.0000)" font-size="9.30" fill="#000"><tspan>3D-CNTs/CC @ 5 mV/s</tspan></text>
<path d="M529.00,159.70 L530.42,157.47 L531.84,155.24 L533.26,153.00 L534.67,150.77 L536.08,148.54 L537.49,146.31 L538.90,144.07 L540.31,141.84 L541.72,139.61 L543.13,137.38 L544.54,135.15 L545.95,132.91 L547.36,130.68 L548.77,128.45 L550.18,126.22 L551.60,123.98 L553.02,121.75 L554.44,119.52 L555.87,117.29 L557.30,115.06 L558.73,112.82 L560.17,110.59 L561.61,108.36 L563.06,106.13 L564.52,103.89 L565.98,101.66 L567.45,99.43 L568.92,97.20 L570.40,94.97 L571.90,92.73 L573.39,90.50 L574.90,88.27 L576.42,86.04 L577.94,83.81 L579.47,81.57 L581.02,79.34 L582.57,77.11 L584.14,74.88 L585.60,72.70 L586.83,74.93 L588.07,77.16 L589.32,79.39 L590.58,81.62 L591.85,83.85 L593.14,86.08 L594.43,88.32 L595.74,90.55 L597.06,92.78 L598.39,95.01 L599.73,97.24 L601.08,99.47 L602.45,101.70 L603.82,103.93 L605.21,106.16 L606.61,108.39 L608.02,110.62 L609.44,112.85 L610.87,115.08 L612.31,117.32 L613.77,119.55 L615.23,121.78 L616.71,124.01 L618.20,126.24 L619.70,128.47 L621.21,130.70 L622.74,132.93 L624.27,135.16 L625.82,137.39 L627.37,139.62 L628.94,141.85 L630.52,144.08 L632.11,146.32 L633.71,148.55 L635.33,150.78 L636.95,153.01 L638.59,155.24 L640.24,157.47 L641.90,159.70" fill="none" stroke="#000000" stroke-width="1.70" stroke-linejoin="round" stroke-linecap="round"/>
<path d="M529.00,159.70 L530.42,157.47 L531.84,155.24 L533.26,153.00 L534.67,150.77 L536.08,148.54 L537.49,146.31 L538.90,144.07 L540.31,141.84 L541.72,139.61 L543.13,137.38 L544.54,135.15 L545.95,132.91 L547.36,130.68 L548.77,128.45 L550.18,126.22 L551.60,123.98 L553.02,121.75 L554.44,119.52 L555.87,117.29 L557.30,115.06 L558.73,112.82 L560.17,110.59 L561.61,108.36 L563.06,106.13 L564.52,103.89 L565.98,101.66 L567.45,99.43 L568.92,97.20 L570.40,94.97 L571.90,92.73 L573.39,90.50 L574.90,88.27 L576.42,86.04 L577.94,83.81 L579.47,81.57 L581.02,79.34 L582.57,77.11 L584.14,74.88 L585.72,72.64 L587.31,70.41 L588.91,68.18 L590.52,65.95 L592.15,63.72 L593.78,61.48 L595.44,59.25 L597.10,57.02 L598.30,55.30 L599.82,57.98 L601.36,60.65 L602.91,63.33 L604.47,66.01 L606.05,68.68 L607.64,71.36 L609.24,74.04 L610.85,76.72 L612.48,79.39 L614.12,82.07 L615.78,84.75 L617.45,87.42 L619.13,90.10 L620.82,92.78 L622.53,95.45 L624.25,98.13 L625.98,100.81 L627.73,103.48 L629.49,106.16 L631.26,108.84 L633.04,111.52 L634.84,114.19 L636.65,116.87 L638.48,119.55 L640.31,122.22 L642.16,124.90 L644.03,127.58 L645.90,130.25 L647.79,132.93 L649.70,135.61 L651.61,138.28 L653.54,140.96 L655.48,143.64 L657.44,146.32 L659.40,148.99 L661.38,151.67 L663.38,154.35 L665.38,157.02 L667.40,159.70" fill="none" stroke="#ff0000" stroke-width="1.70" stroke-linejoin="round" stroke-linecap="round"/>
<path d="M529.00,159.70 L530.42,157.47 L531.84,155.24 L533.26,153.00 L534.67,150.77 L536.08,148.54 L537.49,146.31 L538.90,144.07 L540.31,141.84 L541.72,139.61 L543.13,137.38 L544.54,135.15 L545.95,132.91 L547.36,130.68 L548.77,128.45 L550.18,126.22 L551.60,123.98 L553.02,121.75 L554.44,119.52 L555.87,117.29 L557.30,115.06 L558.73,112.82 L560.17,110.59 L561.61,108.36 L563.06,106.13 L564.52,103.89 L565.98,101.66 L567.45,99.43 L568.92,97.20 L570.40,94.97 L571.90,92.73 L573.39,90.50 L574.90,88.27 L576.42,86.04 L577.94,83.81 L579.47,81.57 L581.02,79.34 L582.57,77.11 L584.14,74.88 L585.72,72.64 L587.31,70.41 L588.91,68.18 L590.52,65.95 L592.15,63.72 L593.78,61.48 L595.44,59.25 L597.10,57.02 L598.78,54.79 L600.48,52.55 L602.19,50.32 L603.92,48.09 L605.66,45.86 L607.42,43.63 L609.19,41.39 L610.98,39.16 L612.80,37.20 L614.60,40.35 L616.41,43.49 L618.23,46.64 L620.07,49.78 L621.93,52.93 L623.80,56.08 L625.69,59.22 L627.60,62.37 L629.52,65.52 L631.46,68.66 L633.41,71.81 L635.38,74.95 L637.37,78.10 L639.38,81.25 L641.40,84.39 L643.44,87.54 L645.49,90.68 L647.56,93.83 L649.65,96.98 L651.75,100.12 L653.87,103.27 L656.01,106.42 L658.16,109.56 L660.33,112.71 L662.52,115.85 L664.72,119.00 L666.94,122.15 L669.18,125.29 L671.43,128.44 L673.70,131.58 L675.99,134.73 L678.29,137.88 L680.61,141.02 L682.95,144.17 L685.30,147.32 L687.67,150.46 L690.05,153.61 L692.45,156.75 L694.87,159.90" fill="none" stroke="#0000ff" stroke-width="1.70" stroke-linejoin="round" stroke-linecap="round"/>
<path d="M529.00,159.70 L530.42,157.47 L531.84,155.24 L533.26,153.00 L534.67,150.77 L536.08,148.54 L537.49,146.31 L538.90,144.07 L540.31,141.84 L541.72,139.61 L543.13,137.38 L544.54,135.15 L545.95,132.91 L547.36,130.68 L548.77,128.45 L550.18,126.22 L551.60,123.98 L553.02,121.75 L554.44,119.52 L555.87,117.29 L557.30,115.06 L558.73,112.82 L560.17,110.59 L561.61,108.36 L563.06,106.13 L564.52,103.89 L565.98,101.66 L567.45,99.43 L568.92,97.20 L570.40,94.97 L571.90,92.73 L573.39,90.50 L574.90,88.27 L576.42,86.04 L577.94,83.81 L579.47,81.57 L581.02,79.34 L582.57,77.11 L584.14,74.88 L585.72,72.64 L587.31,70.41 L588.91,68.18 L590.52,65.95 L592.15,63.72 L593.78,61.48 L595.44,59.25 L597.10,57.02 L598.78,54.79 L600.48,52.55 L602.19,50.32 L603.92,48.09 L605.66,45.86 L607.42,43.63 L609.19,41.39 L610.98,39.16 L612.79,36.93 L614.62,34.70 L616.46,32.46 L618.32,30.23 L620.20,28.00 L622.17,31.38 L624.15,34.76 L626.14,38.15 L628.16,41.53 L630.19,44.91 L632.24,48.29 L634.30,51.67 L636.38,55.06 L638.48,58.44 L640.60,61.82 L642.73,65.20 L644.88,68.58 L647.04,71.97 L649.22,75.35 L651.42,78.73 L653.64,82.11 L655.87,85.49 L658.12,88.88 L660.38,92.26 L662.66,95.64 L664.96,99.02 L667.28,102.41 L669.61,105.79 L671.96,109.17 L674.32,112.55 L676.71,115.93 L679.11,119.32 L681.52,122.70 L683.95,126.08 L686.40,129.46 L688.87,132.84 L691.35,136.23 L693.85,139.61 L696.37,142.99 L698.90,146.37 L701.45,149.75 L704.02,153.14 L706.60,156.52 L709.20,159.90" fill="none" stroke="#ff00ff" stroke-width="1.70" stroke-linejoin="round" stroke-linecap="round"/>
<line x1="672.70" y1="35.50" x2="691.80" y2="35.50" stroke="#000000" stroke-width="1.60" stroke-linecap="butt"/>
<text transform="translate(693.36 38.40) scale(0.9494 1.0000)" font-size="8.40" fill="#000"><tspan>1.0V</tspan></text>
<line x1="672.70" y1="45.50" x2="691.80" y2="45.50" stroke="#ff0000" stroke-width="1.60" stroke-linecap="butt"/>
<text transform="translate(693.36 48.40) scale(0.9494 1.0000)" font-size="8.40" fill="#000"><tspan>1.2V</tspan></text>
<line x1="672.70" y1="55.50" x2="691.80" y2="55.50" stroke="#0000ff" stroke-width="1.60" stroke-linecap="butt"/>
<text transform="translate(693.36 58.40) scale(0.9494 1.0000)" font-size="8.40" fill="#000"><tspan>1.4V</tspan></text>
<line x1="672.70" y1="65.50" x2="691.80" y2="65.50" stroke="#ff00ff" stroke-width="1.60" stroke-linecap="butt"/>
<text transform="translate(693.36 68.40) scale(0.9494 1.0000)" font-size="8.40" fill="#000"><tspan>1.5V</tspan></text>
<text transform="translate(537.76 49.00) scale(0.9970 1.0000)" font-size="11.80" fill="#000"><tspan>1 mA/cm</tspan><tspan font-size="7.32" dy="-4.25">2</tspan></text>
<text transform="translate(550.61 150.50) scale(1.1188 1.0000)" font-size="9.20" fill="#000"><tspan>3D-CNTs/CC</tspan></text>
<path d="M52.50,331.90 C52.52,331.40 52.55,334.22 52.60,328.90 C52.65,323.58 52.73,307.32 52.80,300.00 C52.87,292.68 52.92,289.72 53.00,285.00 C53.08,280.28 53.10,276.70 53.30,271.70 C53.50,266.70 53.92,259.17 54.20,255.00 C54.48,250.83 54.67,249.03 55.00,246.70 C55.33,244.37 55.78,242.67 56.20,241.00 C56.62,239.33 57.03,238.03 57.50,236.70 C57.97,235.37 58.42,234.15 59.00,233.00 C59.58,231.85 60.25,230.77 61.00,229.80 C61.75,228.83 62.53,227.97 63.50,227.20 C64.47,226.43 65.72,225.70 66.80,225.20 C67.88,224.70 68.73,224.45 70.00,224.20 C71.27,223.95 72.90,223.72 74.40,223.70 C75.90,223.68 77.42,223.88 79.00,224.10 C80.58,224.32 82.32,224.57 83.90,225.03 C85.48,225.49 86.92,226.00 88.50,226.88 C90.08,227.75 91.98,229.31 93.40,230.29 C94.82,231.27 95.73,232.05 97.00,232.75 C98.27,233.45 99.83,234.07 101.00,234.50 C102.17,234.92 103.03,235.13 104.00,235.30 C104.97,235.48 105.47,235.49 106.80,235.57 C108.13,235.65 110.10,235.75 112.00,235.80 C113.90,235.86 115.53,235.92 118.20,235.90 C120.87,235.88 124.37,235.77 128.00,235.70 C131.63,235.63 137.07,235.62 140.00,235.50 C142.93,235.38 144.67,235.08 145.60,235.00 L145.60,235.00 C145.57,235.83 145.57,232.50 145.40,240.00 C145.23,247.50 144.73,273.33 144.60,280.00 L144.60,280.00 C144.47,282.42 144.28,290.40 143.80,294.50 C143.32,298.60 142.67,302.18 141.70,304.60 C140.73,307.02 140.78,307.85 138.00,309.00 C135.22,310.15 128.30,311.02 125.00,311.50 C121.70,311.98 120.70,311.78 118.20,311.90 C115.70,312.02 112.37,312.10 110.00,312.20 C107.63,312.30 105.67,312.37 104.00,312.50 C102.33,312.63 101.25,312.75 100.00,313.00 C98.75,313.25 97.58,313.58 96.50,314.00 C95.42,314.42 94.50,314.92 93.50,315.50 C92.50,316.08 91.50,316.82 90.50,317.50 C89.50,318.18 88.58,318.92 87.50,319.60 C86.42,320.28 85.23,320.98 84.00,321.60 C82.77,322.22 81.93,322.63 80.10,323.30 C78.27,323.97 75.35,324.85 73.00,325.60 C70.65,326.35 68.33,327.08 66.00,327.80 C63.67,328.52 61.25,329.22 59.00,329.90 C56.75,330.58 53.58,331.57 52.50,331.90" fill="none" stroke="#000000" stroke-width="1.70" stroke-linejoin="round" stroke-linecap="round"/>
<path d="M52.50,332.62 C52.52,332.12 52.55,335.06 52.60,329.62 C52.65,324.18 52.73,307.44 52.80,300.00 C52.87,292.56 52.92,289.72 53.00,285.00 C53.08,280.28 53.10,276.70 53.30,271.70 C53.50,266.70 53.92,259.17 54.20,255.00 C54.48,250.83 54.67,249.03 55.00,246.70 C55.33,244.37 55.78,242.67 56.20,241.00 C56.62,239.33 57.03,238.03 57.50,236.70 C57.97,235.37 58.42,234.15 59.00,233.00 C59.58,231.85 60.25,230.77 61.00,229.80 C61.75,228.83 62.53,227.97 63.50,227.20 C64.47,226.43 65.72,225.70 66.80,225.20 C67.88,224.70 68.73,224.45 70.00,224.20 C71.27,223.95 72.90,223.72 74.40,223.70 C75.90,223.68 77.42,223.88 79.00,224.10 C80.58,224.32 82.32,224.57 83.90,225.03 C85.48,225.48 86.92,225.98 88.50,226.81 C90.08,227.65 91.98,229.10 93.40,230.04 C94.82,230.98 95.73,231.74 97.00,232.46 C98.27,233.18 99.83,233.88 101.00,234.35 C102.17,234.81 103.03,235.05 104.00,235.25 C104.97,235.46 105.47,235.47 106.80,235.56 C108.13,235.65 110.10,235.74 112.00,235.80 C113.90,235.86 115.53,235.92 118.20,235.90 C120.87,235.88 124.70,235.75 128.00,235.70 C131.30,235.65 134.33,235.62 138.00,235.60 C141.67,235.58 146.67,235.65 150.00,235.60 C153.33,235.55 155.60,235.63 158.00,235.30 C160.40,234.97 163.33,233.88 164.40,233.60 L164.40,233.60 C164.38,234.67 164.40,232.27 164.30,240.00 C164.20,247.73 163.88,273.33 163.80,280.00 L163.80,280.00 C163.65,282.65 163.45,291.80 162.90,295.90 C162.35,300.00 161.75,302.42 160.50,304.60 C159.25,306.78 158.82,307.90 155.40,309.00 C151.98,310.10 144.23,310.77 140.00,311.22 C135.77,311.67 132.50,311.55 130.00,311.72 C127.50,311.89 126.97,312.07 125.00,312.22 C123.03,312.37 120.70,312.50 118.20,312.62 C115.70,312.74 112.37,312.82 110.00,312.92 C107.63,313.02 105.67,313.09 104.00,313.22 C102.33,313.35 101.25,313.47 100.00,313.72 C98.75,313.97 97.58,314.30 96.50,314.72 C95.42,315.14 94.50,315.64 93.50,316.22 C92.50,316.80 91.50,317.54 90.50,318.22 C89.50,318.90 88.58,319.64 87.50,320.32 C86.42,321.00 85.23,321.70 84.00,322.32 C82.77,322.94 81.93,323.35 80.10,324.02 C78.27,324.69 75.35,325.57 73.00,326.32 C70.65,327.07 68.33,327.80 66.00,328.52 C63.67,329.24 61.25,329.94 59.00,330.62 C56.75,331.30 53.58,332.29 52.50,332.62" fill="none" stroke="#ff0000" stroke-width="1.70" stroke-linejoin="round" stroke-linecap="round"/>
<path d="M52.50,333.34 C52.52,332.84 52.55,335.90 52.60,330.34 C52.65,324.78 52.73,307.56 52.80,300.00 C52.87,292.44 52.92,289.72 53.00,285.00 C53.08,280.28 53.10,276.70 53.30,271.70 C53.50,266.70 53.92,259.17 54.20,255.00 C54.48,250.83 54.67,249.03 55.00,246.70 C55.33,244.37 55.78,242.67 56.20,241.00 C56.62,239.33 57.03,238.03 57.50,236.70 C57.97,235.37 58.42,234.15 59.00,233.00 C59.58,231.85 60.25,230.77 61.00,229.80 C61.75,228.83 62.53,227.97 63.50,227.20 C64.47,226.43 65.72,225.70 66.80,225.20 C67.88,224.70 68.73,224.45 70.00,224.20 C71.27,223.95 72.90,223.72 74.40,223.70 C75.90,223.68 77.42,223.88 79.00,224.10 C80.58,224.32 82.32,224.58 83.90,225.02 C85.48,225.46 86.92,225.96 88.50,226.75 C90.08,227.55 91.98,228.89 93.40,229.79 C94.82,230.70 95.73,231.43 97.00,232.17 C98.27,232.90 99.83,233.69 101.00,234.20 C102.17,234.71 103.03,234.98 104.00,235.20 C104.97,235.43 105.47,235.45 106.80,235.55 C108.13,235.65 110.10,235.74 112.00,235.80 C113.90,235.86 115.53,235.92 118.20,235.90 C120.87,235.88 124.70,235.75 128.00,235.70 C131.30,235.65 134.33,235.62 138.00,235.60 C141.67,235.58 145.50,235.60 150.00,235.60 C154.50,235.60 161.33,235.62 165.00,235.60 C168.67,235.58 170.33,235.60 172.00,235.50 C173.67,235.40 173.67,235.32 175.00,235.00 C176.33,234.68 178.63,234.10 180.00,233.60 C181.37,233.10 182.67,232.27 183.20,232.00 L183.20,232.00 C183.18,233.33 183.27,232.00 183.10,240.00 C182.93,248.00 182.35,273.33 182.20,280.00 L182.20,280.00 C181.97,282.42 181.65,290.52 180.80,294.50 C179.95,298.48 178.57,301.90 177.10,303.90 C175.63,305.90 174.85,305.53 172.00,306.50 C169.15,307.47 163.67,308.98 160.00,309.74 C156.33,310.50 153.33,310.67 150.00,311.04 C146.67,311.41 143.33,311.71 140.00,311.94 C136.67,312.17 132.50,312.27 130.00,312.44 C127.50,312.61 126.97,312.79 125.00,312.94 C123.03,313.09 120.70,313.22 118.20,313.34 C115.70,313.46 112.37,313.54 110.00,313.64 C107.63,313.74 105.67,313.81 104.00,313.94 C102.33,314.07 101.25,314.19 100.00,314.44 C98.75,314.69 97.58,315.02 96.50,315.44 C95.42,315.86 94.50,316.36 93.50,316.94 C92.50,317.52 91.50,318.26 90.50,318.94 C89.50,319.62 88.58,320.36 87.50,321.04 C86.42,321.72 85.23,322.42 84.00,323.04 C82.77,323.66 81.93,324.07 80.10,324.74 C78.27,325.41 75.35,326.29 73.00,327.04 C70.65,327.79 68.33,328.52 66.00,329.24 C63.67,329.96 61.25,330.66 59.00,331.34 C56.75,332.02 53.58,333.01 52.50,333.34" fill="none" stroke="#0000ff" stroke-width="1.70" stroke-linejoin="round" stroke-linecap="round"/>
<path d="M52.50,334.06 C52.52,333.56 52.55,336.74 52.60,331.06 C52.65,325.38 52.73,307.68 52.80,300.00 C52.87,292.32 52.92,289.72 53.00,285.00 C53.08,280.28 53.10,276.70 53.30,271.70 C53.50,266.70 53.92,259.17 54.20,255.00 C54.48,250.83 54.67,249.03 55.00,246.70 C55.33,244.37 55.78,242.67 56.20,241.00 C56.62,239.33 57.03,238.03 57.50,236.70 C57.97,235.37 58.42,234.15 59.00,233.00 C59.58,231.85 60.25,230.77 61.00,229.80 C61.75,228.83 62.53,227.97 63.50,227.20 C64.47,226.43 65.72,225.70 66.80,225.20 C67.88,224.70 68.73,224.45 70.00,224.20 C71.27,223.95 72.90,223.72 74.40,223.70 C75.90,223.68 77.42,223.88 79.00,224.10 C80.58,224.32 82.32,224.58 83.90,225.02 C85.48,225.45 86.92,225.93 88.50,226.69 C90.08,227.44 91.98,228.68 93.40,229.55 C94.82,230.41 95.73,231.12 97.00,231.88 C98.27,232.63 99.83,233.50 101.00,234.05 C102.17,234.60 103.03,234.90 104.00,235.15 C104.97,235.40 105.47,235.43 106.80,235.54 C108.13,235.64 110.10,235.74 112.00,235.80 C113.90,235.86 115.53,235.92 118.20,235.90 C120.87,235.88 124.70,235.75 128.00,235.70 C131.30,235.65 134.33,235.62 138.00,235.60 C141.67,235.58 145.50,235.60 150.00,235.60 C154.50,235.60 161.33,235.62 165.00,235.60 C168.67,235.58 168.67,235.73 172.00,235.50 C175.33,235.27 181.60,234.78 185.00,234.20 C188.40,233.62 191.17,232.37 192.40,232.00 L192.40,232.00 C192.38,233.33 192.55,232.00 192.30,240.00 C192.05,248.00 191.13,273.33 190.90,280.00 L190.90,280.00 C190.73,282.42 190.75,290.63 189.90,294.50 C189.05,298.37 187.45,301.35 185.80,303.20 C184.15,305.05 184.30,304.39 180.00,305.60 C175.70,306.81 165.00,309.43 160.00,310.46 C155.00,311.49 153.33,311.39 150.00,311.76 C146.67,312.13 143.33,312.43 140.00,312.66 C136.67,312.89 132.50,312.99 130.00,313.16 C127.50,313.33 126.97,313.51 125.00,313.66 C123.03,313.81 120.70,313.94 118.20,314.06 C115.70,314.18 112.37,314.26 110.00,314.36 C107.63,314.46 105.67,314.53 104.00,314.66 C102.33,314.79 101.25,314.91 100.00,315.16 C98.75,315.41 97.58,315.74 96.50,316.16 C95.42,316.58 94.50,317.08 93.50,317.66 C92.50,318.24 91.50,318.98 90.50,319.66 C89.50,320.34 88.58,321.08 87.50,321.76 C86.42,322.44 85.23,323.14 84.00,323.76 C82.77,324.38 81.93,324.79 80.10,325.46 C78.27,326.13 75.35,327.01 73.00,327.76 C70.65,328.51 68.33,329.24 66.00,329.96 C63.67,330.68 61.25,331.38 59.00,332.06 C56.75,332.74 53.58,333.73 52.50,334.06" fill="none" stroke="#ff00ff" stroke-width="1.70" stroke-linejoin="round" stroke-linecap="round"/>
<path d="M52.50,334.78 C52.52,334.28 52.55,337.58 52.60,331.78 C52.65,325.98 52.73,307.80 52.80,300.00 C52.87,292.20 52.92,289.72 53.00,285.00 C53.08,280.28 53.10,276.70 53.30,271.70 C53.50,266.70 53.92,259.17 54.20,255.00 C54.48,250.83 54.67,249.03 55.00,246.70 C55.33,244.37 55.78,242.67 56.20,241.00 C56.62,239.33 57.03,238.03 57.50,236.70 C57.97,235.37 58.42,234.15 59.00,233.00 C59.58,231.85 60.25,230.77 61.00,229.80 C61.75,228.83 62.53,227.97 63.50,227.20 C64.47,226.43 65.72,225.70 66.80,225.20 C67.88,224.70 68.73,224.45 70.00,224.20 C71.27,223.95 72.90,223.72 74.40,223.70 C75.90,223.68 77.42,223.88 79.00,224.10 C80.58,224.32 82.32,224.59 83.90,225.01 C85.48,225.43 86.92,225.91 88.50,226.63 C90.08,227.34 91.98,228.47 93.40,229.30 C94.82,230.12 95.73,230.82 97.00,231.58 C98.27,232.35 99.83,233.31 101.00,233.90 C102.17,234.49 103.03,234.83 104.00,235.10 C104.97,235.37 105.47,235.41 106.80,235.52 C108.13,235.64 110.10,235.74 112.00,235.80 C113.90,235.86 115.53,235.92 118.20,235.90 C120.87,235.88 124.70,235.75 128.00,235.70 C131.30,235.65 134.33,235.62 138.00,235.60 C141.67,235.58 145.50,235.60 150.00,235.60 C154.50,235.60 161.33,235.62 165.00,235.60 C168.67,235.58 167.50,235.80 172.00,235.50 C176.50,235.20 187.83,234.32 192.00,233.80 C196.17,233.28 195.43,233.00 197.00,232.40 C198.57,231.80 200.67,230.57 201.40,230.20 L201.40,230.20 C201.38,231.83 201.48,231.70 201.30,240.00 C201.12,248.30 200.47,273.33 200.30,280.00 L200.30,280.00 C200.07,282.42 199.87,290.77 198.90,294.50 C197.93,298.23 196.32,300.67 194.50,302.40 C192.68,304.13 192.08,303.69 188.00,304.90 C183.92,306.11 174.67,308.63 170.00,309.68 C165.33,310.73 163.33,310.71 160.00,311.18 C156.67,311.65 153.33,312.11 150.00,312.48 C146.67,312.85 143.33,313.15 140.00,313.38 C136.67,313.61 132.50,313.71 130.00,313.88 C127.50,314.05 126.97,314.23 125.00,314.38 C123.03,314.53 120.70,314.66 118.20,314.78 C115.70,314.90 112.37,314.98 110.00,315.08 C107.63,315.18 105.67,315.25 104.00,315.38 C102.33,315.51 101.25,315.63 100.00,315.88 C98.75,316.13 97.58,316.46 96.50,316.88 C95.42,317.30 94.50,317.80 93.50,318.38 C92.50,318.96 91.50,319.70 90.50,320.38 C89.50,321.06 88.58,321.80 87.50,322.48 C86.42,323.16 85.23,323.86 84.00,324.48 C82.77,325.10 81.93,325.51 80.10,326.18 C78.27,326.85 75.35,327.73 73.00,328.48 C70.65,329.23 68.33,329.96 66.00,330.68 C63.67,331.40 61.25,332.10 59.00,332.78 C56.75,333.46 53.58,334.45 52.50,334.78" fill="none" stroke="#008000" stroke-width="1.70" stroke-linejoin="round" stroke-linecap="round"/>
<path d="M52.50,335.50 C52.52,335.00 52.55,338.42 52.60,332.50 C52.65,326.58 52.73,307.92 52.80,300.00 C52.87,292.08 52.92,289.72 53.00,285.00 C53.08,280.28 53.10,276.70 53.30,271.70 C53.50,266.70 53.92,259.17 54.20,255.00 C54.48,250.83 54.67,249.03 55.00,246.70 C55.33,244.37 55.78,242.67 56.20,241.00 C56.62,239.33 57.03,238.03 57.50,236.70 C57.97,235.37 58.42,234.15 59.00,233.00 C59.58,231.85 60.25,230.77 61.00,229.80 C61.75,228.83 62.53,227.97 63.50,227.20 C64.47,226.43 65.72,225.70 66.80,225.20 C67.88,224.70 68.73,224.45 70.00,224.20 C71.27,223.95 72.90,223.72 74.40,223.70 C75.90,223.68 77.42,223.88 79.00,224.10 C80.58,224.32 82.32,224.59 83.90,225.01 C85.48,225.42 86.92,225.89 88.50,226.56 C90.08,227.24 91.98,228.26 93.40,229.05 C94.82,229.84 95.73,230.51 97.00,231.29 C98.27,232.08 99.83,233.12 101.00,233.75 C102.17,234.38 103.03,234.76 104.00,235.05 C104.97,235.34 105.47,235.39 106.80,235.51 C108.13,235.64 110.10,235.74 112.00,235.80 C113.90,235.86 115.53,235.92 118.20,235.90 C120.87,235.88 124.70,235.75 128.00,235.70 C131.30,235.65 134.33,235.62 138.00,235.60 C141.67,235.58 145.50,235.60 150.00,235.60 C154.50,235.60 161.33,235.62 165.00,235.60 C168.67,235.58 166.17,235.97 172.00,235.50 C177.83,235.03 194.33,233.67 200.00,232.80 C205.67,231.93 204.12,231.30 206.00,230.30 C207.88,229.30 210.42,227.38 211.30,226.80 L211.30,226.80 C211.28,228.17 211.47,226.13 211.20,235.00 C210.93,243.87 209.95,272.50 209.70,280.00 L209.70,280.00 C209.47,282.42 209.27,290.88 208.30,294.50 C207.33,298.12 205.95,300.08 203.90,301.70 C201.85,303.32 199.98,303.05 196.00,304.20 C192.02,305.35 184.33,307.57 180.00,308.60 C175.67,309.63 173.33,309.85 170.00,310.40 C166.67,310.95 163.33,311.43 160.00,311.90 C156.67,312.37 153.33,312.83 150.00,313.20 C146.67,313.57 143.33,313.87 140.00,314.10 C136.67,314.33 132.50,314.43 130.00,314.60 C127.50,314.77 126.97,314.95 125.00,315.10 C123.03,315.25 120.70,315.38 118.20,315.50 C115.70,315.62 112.37,315.70 110.00,315.80 C107.63,315.90 105.67,315.97 104.00,316.10 C102.33,316.23 101.25,316.35 100.00,316.60 C98.75,316.85 97.58,317.18 96.50,317.60 C95.42,318.02 94.50,318.52 93.50,319.10 C92.50,319.68 91.50,320.42 90.50,321.10 C89.50,321.78 88.58,322.52 87.50,323.20 C86.42,323.88 85.23,324.58 84.00,325.20 C82.77,325.82 81.93,326.23 80.10,326.90 C78.27,327.57 75.35,328.45 73.00,329.20 C70.65,329.95 68.33,330.68 66.00,331.40 C63.67,332.12 61.25,332.82 59.00,333.50 C56.75,334.18 53.58,335.17 52.50,335.50" fill="none" stroke="#000080" stroke-width="1.70" stroke-linejoin="round" stroke-linecap="round"/>
<path d="M52.50,336.22 C52.52,335.72 52.55,339.26 52.60,333.22 C52.65,327.18 52.73,308.04 52.80,300.00 C52.87,291.96 52.92,289.72 53.00,285.00 C53.08,280.28 53.10,276.70 53.30,271.70 C53.50,266.70 53.92,259.17 54.20,255.00 C54.48,250.83 54.67,249.03 55.00,246.70 C55.33,244.37 55.78,242.67 56.20,241.00 C56.62,239.33 57.03,238.03 57.50,236.70 C57.97,235.37 58.42,234.15 59.00,233.00 C59.58,231.85 60.25,230.77 61.00,229.80 C61.75,228.83 62.53,227.97 63.50,227.20 C64.47,226.43 65.72,225.70 66.80,225.20 C67.88,224.70 68.73,224.45 70.00,224.20 C71.27,223.95 72.90,223.72 74.40,223.70 C75.90,223.68 77.42,223.88 79.00,224.10 C80.58,224.32 82.32,224.60 83.90,225.00 C85.48,225.40 86.92,225.87 88.50,226.50 C90.08,227.13 91.98,228.05 93.40,228.80 C94.82,229.55 95.73,230.20 97.00,231.00 C98.27,231.80 99.83,232.93 101.00,233.60 C102.17,234.27 103.03,234.68 104.00,235.00 C104.97,235.32 105.47,235.37 106.80,235.50 C108.13,235.63 110.10,235.73 112.00,235.80 C113.90,235.87 115.53,235.92 118.20,235.90 C120.87,235.88 124.70,235.75 128.00,235.70 C131.30,235.65 134.33,235.62 138.00,235.60 C141.67,235.58 145.50,235.60 150.00,235.60 C154.50,235.60 161.33,235.62 165.00,235.60 C168.67,235.58 168.67,235.57 172.00,235.50 C175.33,235.43 181.17,235.45 185.00,235.20 C188.83,234.95 191.67,234.57 195.00,234.00 C198.33,233.43 202.17,232.72 205.00,231.80 C207.83,230.88 210.00,229.63 212.00,228.50 C214.00,227.37 215.57,226.22 217.00,225.00 C218.43,223.78 220.00,221.83 220.60,221.20 L220.60,221.20 C220.57,222.33 220.78,218.20 220.40,228.00 C220.02,237.80 218.65,271.33 218.30,280.00 L218.30,280.00 C218.00,282.42 217.57,291.00 216.50,294.50 C215.43,298.00 214.12,299.43 211.90,301.00 C209.68,302.57 206.85,302.85 203.20,303.90 C199.55,304.95 193.87,306.42 190.00,307.32 C186.13,308.22 183.33,308.69 180.00,309.32 C176.67,309.95 173.33,310.57 170.00,311.12 C166.67,311.67 163.33,312.15 160.00,312.62 C156.67,313.09 153.33,313.55 150.00,313.92 C146.67,314.29 143.33,314.59 140.00,314.82 C136.67,315.05 132.50,315.15 130.00,315.32 C127.50,315.49 126.97,315.67 125.00,315.82 C123.03,315.97 120.70,316.10 118.20,316.22 C115.70,316.34 112.37,316.42 110.00,316.52 C107.63,316.62 105.67,316.69 104.00,316.82 C102.33,316.95 101.25,317.07 100.00,317.32 C98.75,317.57 97.58,317.90 96.50,318.32 C95.42,318.74 94.50,319.24 93.50,319.82 C92.50,320.40 91.50,321.14 90.50,321.82 C89.50,322.50 88.58,323.24 87.50,323.92 C86.42,324.60 85.23,325.30 84.00,325.92 C82.77,326.54 81.93,326.95 80.10,327.62 C78.27,328.29 75.35,329.17 73.00,329.92 C70.65,330.67 68.33,331.40 66.00,332.12 C63.67,332.84 61.25,333.54 59.00,334.22 C56.75,334.90 53.58,335.89 52.50,336.22" fill="none" stroke="#8000ff" stroke-width="1.70" stroke-linejoin="round" stroke-linecap="round"/>
<line x1="75.00" y1="245.00" x2="94.00" y2="245.00" stroke="#000000" stroke-width="1.50" stroke-linecap="butt"/>
<text transform="translate(95.58 247.80) scale(0.9466 1.0000)" font-size="8.20" fill="#000"><tspan>1.0V</tspan></text>
<line x1="75.00" y1="255.03" x2="94.00" y2="255.03" stroke="#ff0000" stroke-width="1.50" stroke-linecap="butt"/>
<text transform="translate(95.58 257.83) scale(0.9466 1.0000)" font-size="8.20" fill="#000"><tspan>1.2V</tspan></text>
<line x1="75.00" y1="265.06" x2="94.00" y2="265.06" stroke="#0000ff" stroke-width="1.50" stroke-linecap="butt"/>
<text transform="translate(95.58 267.86) scale(0.9466 1.0000)" font-size="8.20" fill="#000"><tspan>1.4V</tspan></text>
<line x1="75.00" y1="275.09" x2="94.00" y2="275.09" stroke="#ff00ff" stroke-width="1.50" stroke-linecap="butt"/>
<text transform="translate(95.58 277.89) scale(0.9466 1.0000)" font-size="8.20" fill="#000"><tspan>1.5V</tspan></text>
<line x1="75.00" y1="285.12" x2="94.00" y2="285.12" stroke="#008000" stroke-width="1.50" stroke-linecap="butt"/>
<text transform="translate(95.58 287.92) scale(0.9466 1.0000)" font-size="8.20" fill="#000"><tspan>1.6V</tspan></text>
<line x1="75.00" y1="295.15" x2="94.00" y2="295.15" stroke="#000080" stroke-width="1.50" stroke-linecap="butt"/>
<text transform="translate(95.58 297.95) scale(0.9466 1.0000)" font-size="8.20" fill="#000"><tspan>1.7V</tspan></text>
<line x1="75.00" y1="305.18" x2="94.00" y2="305.18" stroke="#8000ff" stroke-width="1.50" stroke-linecap="butt"/>
<text transform="translate(95.58 307.98) scale(0.9466 1.0000)" font-size="8.20" fill="#000"><tspan>1.8V</tspan></text>
<text transform="translate(72.42 339.50) scale(1.0721 1.0000)" font-size="9.40" fill="#000"><tspan>3D-PANI/CNTs/CC @ 5 mV/s</tspan></text>
<path d="M287.90,340.20 C288.18,339.67 288.63,338.40 289.60,337.00 C290.57,335.60 291.55,334.27 293.70,331.80 C295.85,329.33 299.58,325.45 302.50,322.20 C305.42,318.95 308.78,315.28 311.20,312.30 C313.62,309.32 315.12,307.02 317.00,304.30 C318.88,301.58 320.33,299.25 322.50,296.00 C324.67,292.75 327.42,288.52 330.00,284.80 C332.58,281.08 336.67,275.55 338.00,273.70 L338.60,275.05 L339.20,276.41 L339.82,277.76 L340.46,279.11 L341.12,280.47 L341.79,281.82 L342.49,283.17 L343.20,284.52 L343.93,285.88 L344.68,287.23 L345.45,288.58 L346.24,289.94 L347.04,291.29 L347.86,292.64 L348.70,294.00 L349.56,295.35 L350.44,296.70 L351.33,298.06 L352.24,299.41 L353.17,300.76 L354.11,302.11 L355.07,303.47 L356.05,304.82 L357.04,306.17 L358.06,307.53 L359.08,308.88 L360.13,310.23 L361.19,311.59 L362.26,312.94 L363.36,314.29 L364.47,315.64 L365.59,317.00 L366.73,318.35 L367.89,319.70 L369.06,321.06 L370.24,322.41 L371.44,323.76 L372.66,325.12 L373.89,326.47 L375.14,327.82 L376.40,329.18 L377.68,330.53 L378.97,331.88 L380.27,333.23 L381.59,334.59 L382.92,335.94 L384.27,337.29 L385.63,338.65 L387.01,340.00" fill="none" stroke="#000000" stroke-width="1.70" stroke-linejoin="round" stroke-linecap="round"/>
<path d="M287.90,340.20 C288.18,339.67 288.63,338.40 289.60,337.00 C290.57,335.60 291.55,334.27 293.70,331.80 C295.85,329.33 299.58,325.45 302.50,322.20 C305.42,318.95 308.78,315.28 311.20,312.30 C313.62,309.32 315.12,307.02 317.00,304.30 C318.88,301.58 320.33,299.25 322.50,296.00 C324.67,292.75 327.42,288.52 330.00,284.80 C332.58,281.08 335.13,277.78 338.00,273.70 C340.87,269.62 345.67,262.53 347.20,260.30 L348.14,261.93 L349.05,263.56 L349.95,265.19 L350.84,266.82 L351.71,268.45 L352.57,270.08 L353.42,271.71 L354.26,273.34 L355.10,274.98 L355.93,276.61 L356.76,278.24 L357.60,279.87 L358.43,281.50 L359.26,283.13 L360.11,284.76 L360.95,286.39 L361.81,288.02 L362.68,289.65 L363.56,291.28 L364.46,292.91 L365.37,294.54 L366.31,296.17 L367.26,297.80 L368.24,299.43 L369.24,301.07 L370.26,302.70 L371.31,304.33 L372.40,305.96 L373.51,307.59 L374.66,309.22 L375.85,310.85 L377.07,312.48 L378.33,314.11 L379.64,315.74 L380.98,317.37 L382.37,319.00 L383.81,320.63 L385.30,322.26 L386.83,323.89 L388.42,325.52 L390.07,327.16 L391.77,328.79 L393.53,330.42 L395.35,332.05 L397.23,333.68 L399.17,335.31 L401.18,336.94 L403.26,338.57 L405.40,340.20" fill="none" stroke="#ff0000" stroke-width="1.70" stroke-linejoin="round" stroke-linecap="round"/>
<path d="M287.90,340.20 C288.18,339.67 288.63,338.40 289.60,337.00 C290.57,335.60 291.55,334.27 293.70,331.80 C295.85,329.33 299.58,325.45 302.50,322.20 C305.42,318.95 308.78,315.28 311.20,312.30 C313.62,309.32 315.12,307.02 317.00,304.30 C318.88,301.58 320.33,299.25 322.50,296.00 C324.67,292.75 327.42,288.52 330.00,284.80 C332.58,281.08 335.13,277.78 338.00,273.70 C340.87,269.62 344.23,264.75 347.20,260.30 C350.17,255.85 354.37,249.22 355.80,247.00 L357.02,248.90 L358.17,250.80 L359.29,252.71 L360.40,254.61 L361.48,256.51 L362.55,258.41 L363.60,260.31 L364.64,262.22 L365.68,264.12 L366.70,266.02 L367.72,267.92 L368.73,269.82 L369.74,271.73 L370.76,273.63 L371.77,275.53 L372.79,277.43 L373.82,279.33 L374.86,281.24 L375.91,283.14 L376.97,285.04 L378.04,286.94 L379.14,288.84 L380.25,290.75 L381.39,292.65 L382.55,294.55 L383.73,296.45 L384.95,298.36 L386.19,300.26 L387.47,302.16 L388.78,304.06 L390.13,305.96 L391.51,307.87 L392.94,309.77 L394.41,311.67 L395.92,313.57 L397.48,315.47 L399.10,317.38 L400.76,319.28 L402.47,321.18 L404.25,323.08 L406.08,324.98 L407.96,326.89 L409.92,328.79 L411.93,330.69 L414.01,332.59 L416.16,334.49 L418.38,336.40 L420.68,338.30 L423.05,340.20" fill="none" stroke="#0000ff" stroke-width="1.70" stroke-linejoin="round" stroke-linecap="round"/>
<path d="M287.90,340.20 C288.18,339.67 288.63,338.40 289.60,337.00 C290.57,335.60 291.55,334.27 293.70,331.80 C295.85,329.33 299.58,325.45 302.50,322.20 C305.42,318.95 308.78,315.28 311.20,312.30 C313.62,309.32 315.12,307.02 317.00,304.30 C318.88,301.58 320.33,299.25 322.50,296.00 C324.67,292.75 327.42,288.52 330.00,284.80 C332.58,281.08 335.13,277.78 338.00,273.70 C340.87,269.62 344.23,264.80 347.20,260.30 C350.17,255.80 353.57,250.18 355.80,246.70 C358.03,243.22 359.80,240.62 360.60,239.40 L361.77,241.46 L362.91,243.51 L364.03,245.57 L365.13,247.63 L366.22,249.69 L367.30,251.74 L368.37,253.80 L369.43,255.86 L370.49,257.91 L371.54,259.97 L372.60,262.03 L373.65,264.09 L374.71,266.14 L375.78,268.20 L376.85,270.26 L377.93,272.31 L379.02,274.37 L380.12,276.43 L381.24,278.49 L382.38,280.54 L383.53,282.60 L384.71,284.66 L385.91,286.71 L387.13,288.77 L388.38,290.83 L389.67,292.89 L390.98,294.94 L392.32,297.00 L393.70,299.06 L395.12,301.11 L396.58,303.17 L398.07,305.23 L399.61,307.29 L401.20,309.34 L402.83,311.40 L404.51,313.46 L406.24,315.51 L408.03,317.57 L409.87,319.63 L411.77,321.69 L413.73,323.74 L415.74,325.80 L417.83,327.86 L419.97,329.91 L422.18,331.97 L424.47,334.03 L426.82,336.09 L429.25,338.14 L431.75,340.20" fill="none" stroke="#ff00ff" stroke-width="1.70" stroke-linejoin="round" stroke-linecap="round"/>
<path d="M287.90,340.20 C288.18,339.67 288.63,338.40 289.60,337.00 C290.57,335.60 291.55,334.27 293.70,331.80 C295.85,329.33 299.58,325.45 302.50,322.20 C305.42,318.95 308.78,315.28 311.20,312.30 C313.62,309.32 315.12,307.02 317.00,304.30 C318.88,301.58 320.33,299.25 322.50,296.00 C324.67,292.75 327.42,288.52 330.00,284.80 C332.58,281.08 335.13,277.78 338.00,273.70 C340.87,269.62 344.23,264.80 347.20,260.30 C350.17,255.80 353.57,250.18 355.80,246.70 C358.03,243.22 359.00,241.82 360.60,239.40 C362.20,236.98 364.60,233.40 365.40,232.20 L366.75,234.40 L368.05,236.61 L369.33,238.81 L370.58,241.02 L371.81,243.22 L373.01,245.42 L374.20,247.63 L375.37,249.83 L376.52,252.04 L377.67,254.24 L378.81,256.44 L379.94,258.65 L381.07,260.85 L382.20,263.06 L383.32,265.26 L384.46,267.47 L385.60,269.67 L386.75,271.87 L387.91,274.08 L389.09,276.28 L390.29,278.49 L391.50,280.69 L392.74,282.89 L394.00,285.10 L395.29,287.30 L396.62,289.51 L397.97,291.71 L399.36,293.91 L400.79,296.12 L402.25,298.32 L403.76,300.53 L405.32,302.73 L406.92,304.93 L408.58,307.14 L410.29,309.34 L412.05,311.55 L413.88,313.75 L415.76,315.96 L417.71,318.16 L419.72,320.36 L421.80,322.57 L423.96,324.77 L426.19,326.98 L428.49,329.18 L430.88,331.38 L433.34,333.59 L435.89,335.79 L438.53,338.00 L441.25,340.20" fill="none" stroke="#008000" stroke-width="1.70" stroke-linejoin="round" stroke-linecap="round"/>
<path d="M287.90,340.20 C288.18,339.67 288.63,338.40 289.60,337.00 C290.57,335.60 291.55,334.27 293.70,331.80 C295.85,329.33 299.58,325.45 302.50,322.20 C305.42,318.95 308.78,315.28 311.20,312.30 C313.62,309.32 315.12,307.02 317.00,304.30 C318.88,301.58 320.33,299.25 322.50,296.00 C324.67,292.75 327.42,288.52 330.00,284.80 C332.58,281.08 335.13,277.78 338.00,273.70 C340.87,269.62 344.23,264.80 347.20,260.30 C350.17,255.80 353.57,250.18 355.80,246.70 C358.03,243.22 359.00,241.82 360.60,239.40 C362.20,236.98 363.83,234.57 365.40,232.20 C366.97,229.83 369.23,226.37 370.00,225.20 L371.39,227.55 L372.75,229.89 L374.08,232.24 L375.40,234.59 L376.69,236.93 L377.96,239.28 L379.22,241.63 L380.46,243.98 L381.70,246.32 L382.93,248.67 L384.15,251.02 L385.37,253.36 L386.58,255.71 L387.81,258.06 L389.03,260.40 L390.26,262.75 L391.51,265.10 L392.76,267.44 L394.03,269.79 L395.31,272.14 L396.62,274.49 L397.95,276.83 L399.30,279.18 L400.68,281.53 L402.08,283.87 L403.52,286.22 L405.00,288.57 L406.51,290.91 L408.06,293.26 L409.65,295.61 L411.29,297.96 L412.97,300.30 L414.70,302.65 L416.49,305.00 L418.33,307.34 L420.22,309.69 L422.18,312.04 L424.19,314.38 L426.27,316.73 L428.42,319.08 L430.64,321.42 L432.93,323.77 L435.29,326.12 L437.73,328.47 L440.24,330.81 L442.84,333.16 L445.52,335.51 L448.29,337.85 L451.15,340.20" fill="none" stroke="#000080" stroke-width="1.70" stroke-linejoin="round" stroke-linecap="round"/>
<path d="M287.90,340.20 C288.18,339.67 288.63,338.40 289.60,337.00 C290.57,335.60 291.55,334.27 293.70,331.80 C295.85,329.33 299.58,325.45 302.50,322.20 C305.42,318.95 308.78,315.28 311.20,312.30 C313.62,309.32 315.12,307.02 317.00,304.30 C318.88,301.58 320.33,299.25 322.50,296.00 C324.67,292.75 327.42,288.52 330.00,284.80 C332.58,281.08 335.13,277.78 338.00,273.70 C340.87,269.62 344.23,264.80 347.20,260.30 C350.17,255.80 353.57,250.18 355.80,246.70 C358.03,243.22 359.00,241.82 360.60,239.40 C362.20,236.98 363.83,234.57 365.40,232.20 C366.97,229.83 368.25,227.62 370.00,225.20 C371.75,222.78 374.92,218.95 375.90,217.70 L377.39,220.20 L378.84,222.70 L380.27,225.20 L381.67,227.70 L383.06,230.20 L384.43,232.70 L385.78,235.20 L387.12,237.70 L388.45,240.20 L389.77,242.70 L391.09,245.20 L392.41,247.70 L393.72,250.20 L395.04,252.70 L396.37,255.20 L397.70,257.70 L399.04,260.20 L400.40,262.70 L401.77,265.20 L403.16,267.70 L404.57,270.20 L406.00,272.70 L407.46,275.20 L408.95,277.70 L410.47,280.20 L412.02,282.70 L413.61,285.20 L415.24,287.70 L416.91,290.20 L418.62,292.70 L420.38,295.20 L422.18,297.70 L424.04,300.20 L425.96,302.70 L427.93,305.20 L429.95,307.70 L432.04,310.20 L434.20,312.70 L436.42,315.20 L438.71,317.70 L441.07,320.20 L443.51,322.70 L446.02,325.20 L448.62,327.70 L451.29,330.20 L454.05,332.70 L456.90,335.20 L459.84,337.70 L462.87,340.20" fill="none" stroke="#8000ff" stroke-width="1.70" stroke-linejoin="round" stroke-linecap="round"/>
<line x1="429.20" y1="224.20" x2="448.00" y2="224.20" stroke="#000000" stroke-width="1.60" stroke-linecap="butt"/>
<text transform="translate(449.40 227.10) scale(0.8988 1.0000)" font-size="8.40" fill="#000"><tspan>1.0V</tspan></text>
<line x1="429.20" y1="234.20" x2="448.00" y2="234.20" stroke="#ff0000" stroke-width="1.60" stroke-linecap="butt"/>
<text transform="translate(449.40 237.10) scale(0.8988 1.0000)" font-size="8.40" fill="#000"><tspan>1.2V</tspan></text>
<line x1="429.20" y1="244.20" x2="448.00" y2="244.20" stroke="#0000ff" stroke-width="1.60" stroke-linecap="butt"/>
<text transform="translate(449.40 247.10) scale(0.8988 1.0000)" font-size="8.40" fill="#000"><tspan>1.4V</tspan></text>
<line x1="429.20" y1="254.20" x2="448.00" y2="254.20" stroke="#ff00ff" stroke-width="1.60" stroke-linecap="butt"/>
<text transform="translate(449.40 257.10) scale(0.8988 1.0000)" font-size="8.40" fill="#000"><tspan>1.5V</tspan></text>
<line x1="429.20" y1="264.20" x2="448.00" y2="264.20" stroke="#008000" stroke-width="1.60" stroke-linecap="butt"/>
<text transform="translate(449.40 267.10) scale(0.8988 1.0000)" font-size="8.40" fill="#000"><tspan>1.6V</tspan></text>
<line x1="429.20" y1="274.20" x2="448.00" y2="274.20" stroke="#000080" stroke-width="1.60" stroke-linecap="butt"/>
<text transform="translate(449.40 277.10) scale(0.8988 1.0000)" font-size="8.40" fill="#000"><tspan>1.7V</tspan></text>
<line x1="429.20" y1="284.20" x2="448.00" y2="284.20" stroke="#8000ff" stroke-width="1.60" stroke-linecap="butt"/>
<text transform="translate(449.40 287.10) scale(0.8988 1.0000)" font-size="8.40" fill="#000"><tspan>1.8V</tspan></text>
<text transform="translate(301.04 234.00) scale(1.0178 1.0000)" font-size="11.80" fill="#000"><tspan>1 mA/cm</tspan><tspan font-size="7.32" dy="-4.25">2</tspan></text>
<text transform="translate(299.52 341.80) scale(1.0874 1.0000)" font-size="9.20" fill="#000"><tspan>3D-PANI/CNTs/CC</tspan></text>
<path d="M529.80,287.70 L576.82,285.80 L623.85,283.10 L647.36,281.80" fill="none" stroke="#000000" stroke-width="1.40" stroke-linejoin="round" stroke-linecap="round"/>
<path d="M529.80,217.50 L576.82,222.00 L623.85,224.80 L647.36,226.00 L670.88,226.80 L694.39,226.20 L717.90,225.20" fill="none" stroke="#ff0000" stroke-width="1.40" stroke-linejoin="round" stroke-linecap="round"/>
<circle cx="529.80" cy="287.70" r="1.4" fill="#000000"/>
<circle cx="576.82" cy="285.80" r="1.4" fill="#000000"/>
<circle cx="623.85" cy="283.10" r="1.4" fill="#000000"/>
<rect x="645.86" y="280.30" width="3.0" height="3.0" fill="#000000"/>
<circle cx="529.80" cy="217.50" r="1.4" fill="#ff0000"/>
<circle cx="576.82" cy="222.00" r="1.4" fill="#ff0000"/>
<circle cx="623.85" cy="224.80" r="1.4" fill="#ff0000"/>
<circle cx="647.36" cy="226.00" r="1.4" fill="#ff0000"/>
<circle cx="670.88" cy="226.80" r="1.4" fill="#ff0000"/>
<circle cx="694.39" cy="226.20" r="1.4" fill="#ff0000"/>
<circle cx="717.90" cy="225.20" r="1.4" fill="#ff0000"/>
<rect x="613.2" y="314.5" width="93.4" height="21.8" fill="#fff" stroke="#000" stroke-width="0.9"/>
<line x1="615.60" y1="321.70" x2="634.30" y2="321.70" stroke="#000000" stroke-width="1.40" stroke-linecap="butt"/>
<circle cx="624.8" cy="321.7" r="1.4" fill="#000"/>
<line x1="615.60" y1="331.80" x2="634.30" y2="331.80" stroke="#ff0000" stroke-width="1.40" stroke-linecap="butt"/>
<circle cx="624.8" cy="331.8" r="1.4" fill="#f00"/>
<text transform="translate(635.49 324.40) scale(0.9567 1.0000)" font-size="8.60" fill="#000"><tspan>3D-CNTs/CC</tspan></text>
<text transform="translate(635.49 334.70) scale(0.9456 1.0000)" font-size="8.60" fill="#000"><tspan>3D-PANI/CNTs/CC</tspan></text>
<text transform="translate(544.87 333.10) scale(0.9845 1.0000)" font-size="11.80" fill="#000"><tspan>1 mA/cm</tspan><tspan font-size="7.32" dy="-4.25">2</tspan></text>
</g>
</svg>
</body></html>
